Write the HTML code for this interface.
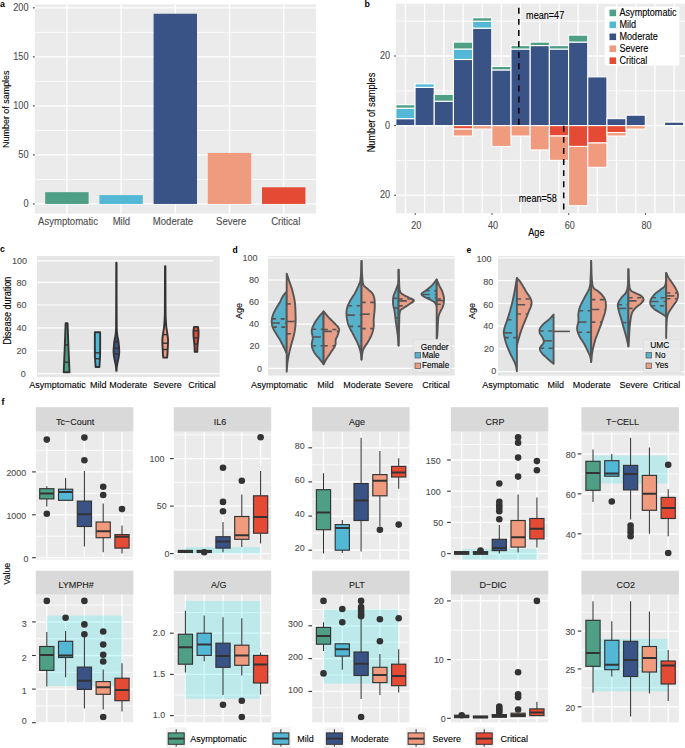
<!DOCTYPE html>
<html><head><meta charset="utf-8"><style>
html,body{margin:0;padding:0;background:#fff;}
svg{display:block;font-family:"Liberation Sans", sans-serif;}
</style></head><body>
<svg width="685" height="748" viewBox="0 0 685 748">
<rect x="0" y="0" width="685" height="748" fill="#fff"/>
<text transform="translate(0,6.5) scale(1,1.1)" font-size="8.8" fill="#000" stroke="#000" stroke-width="0" text-anchor="start" font-weight="bold" >a</text>
<rect x="35" y="4.3" width="281" height="209.3" fill="#EBEBEB" />
<line x1="35" y1="179.44" x2="316" y2="179.44" stroke="#fff" stroke-width="0.8" />
<line x1="35" y1="130.41" x2="316" y2="130.41" stroke="#fff" stroke-width="0.8" />
<line x1="35" y1="81.39" x2="316" y2="81.39" stroke="#fff" stroke-width="0.8" />
<line x1="35" y1="32.36" x2="316" y2="32.36" stroke="#fff" stroke-width="0.8" />
<line x1="35" y1="203.95" x2="316" y2="203.95" stroke="#fff" stroke-width="1.3" />
<line x1="35" y1="154.92" x2="316" y2="154.92" stroke="#fff" stroke-width="1.3" />
<line x1="35" y1="105.9" x2="316" y2="105.9" stroke="#fff" stroke-width="1.3" />
<line x1="35" y1="56.87" x2="316" y2="56.87" stroke="#fff" stroke-width="1.3" />
<line x1="35" y1="7.85" x2="316" y2="7.85" stroke="#fff" stroke-width="1.3" />
<line x1="66.9" y1="4.3" x2="66.9" y2="213.6" stroke="#fff" stroke-width="1.3" />
<line x1="121.1" y1="4.3" x2="121.1" y2="213.6" stroke="#fff" stroke-width="1.3" />
<line x1="175.3" y1="4.3" x2="175.3" y2="213.6" stroke="#fff" stroke-width="1.3" />
<line x1="229.5" y1="4.3" x2="229.5" y2="213.6" stroke="#fff" stroke-width="1.3" />
<line x1="283.7" y1="4.3" x2="283.7" y2="213.6" stroke="#fff" stroke-width="1.3" />
<rect x="45.2" y="192.18" width="43.4" height="11.77" fill="#4E9F86" />
<rect x="99.4" y="195.13" width="43.4" height="8.82" fill="#53B8D6" />
<rect x="153.6" y="13.73" width="43.4" height="190.22" fill="#3A5386" />
<rect x="207.8" y="152.96" width="43.4" height="50.99" fill="#F09A7E" />
<rect x="262" y="187.28" width="43.4" height="16.67" fill="#E54B34" />
<line x1="32.9" y1="203.95" x2="34.8" y2="203.95" stroke="#333333" stroke-width="1" />
<text transform="translate(28.6,207.25) scale(1,1.1)" font-size="9.2" fill="#4D4D4D" stroke="#4D4D4D" stroke-width="0.1" text-anchor="end" font-weight="normal" >0</text>
<line x1="32.9" y1="154.92" x2="34.8" y2="154.92" stroke="#333333" stroke-width="1" />
<text transform="translate(28.6,158.22) scale(1,1.1)" font-size="9.2" fill="#4D4D4D" stroke="#4D4D4D" stroke-width="0.1" text-anchor="end" font-weight="normal" >50</text>
<line x1="32.9" y1="105.9" x2="34.8" y2="105.9" stroke="#333333" stroke-width="1" />
<text transform="translate(28.6,109.2) scale(1,1.1)" font-size="9.2" fill="#4D4D4D" stroke="#4D4D4D" stroke-width="0.1" text-anchor="end" font-weight="normal" >100</text>
<line x1="32.9" y1="56.87" x2="34.8" y2="56.87" stroke="#333333" stroke-width="1" />
<text transform="translate(28.6,60.17) scale(1,1.1)" font-size="9.2" fill="#4D4D4D" stroke="#4D4D4D" stroke-width="0.1" text-anchor="end" font-weight="normal" >150</text>
<line x1="32.9" y1="7.85" x2="34.8" y2="7.85" stroke="#333333" stroke-width="1" />
<text transform="translate(28.6,11.15) scale(1,1.1)" font-size="9.2" fill="#4D4D4D" stroke="#4D4D4D" stroke-width="0.1" text-anchor="end" font-weight="normal" >200</text>
<text transform="translate(68,224.6) scale(1,1.1)" font-size="9.55" fill="#4D4D4D" stroke="#4D4D4D" stroke-width="0.1" text-anchor="middle" font-weight="normal" >Asymptomatic</text>
<text transform="translate(121.4,224.6) scale(1,1.1)" font-size="9.55" fill="#4D4D4D" stroke="#4D4D4D" stroke-width="0.1" text-anchor="middle" font-weight="normal" >Mild</text>
<text transform="translate(173,224.6) scale(1,1.1)" font-size="9.55" fill="#4D4D4D" stroke="#4D4D4D" stroke-width="0.1" text-anchor="middle" font-weight="normal" >Moderate</text>
<text transform="translate(231.2,224.6) scale(1,1.1)" font-size="9.55" fill="#4D4D4D" stroke="#4D4D4D" stroke-width="0.1" text-anchor="middle" font-weight="normal" >Severe</text>
<text transform="translate(285.7,224.6) scale(1,1.1)" font-size="9.55" fill="#4D4D4D" stroke="#4D4D4D" stroke-width="0.1" text-anchor="middle" font-weight="normal" >Critical</text>
<text transform="translate(9.2,109.2) rotate(-90) scale(1,1.1)" font-size="8.95" fill="#000" stroke="#000" stroke-width="0.1" text-anchor="middle">Number of samples</text>
<text transform="translate(364.6,6.8) scale(1,1.1)" font-size="8.8" fill="#000" stroke="#000" stroke-width="0" text-anchor="start" font-weight="bold" >b</text>
<rect x="396" y="3.7" width="289" height="209.5" fill="#EBEBEB" />
<line x1="396" y1="21.2" x2="685" y2="21.2" stroke="#fff" stroke-width="0.8" />
<line x1="396" y1="90.8" x2="685" y2="90.8" stroke="#fff" stroke-width="0.8" />
<line x1="396" y1="160.4" x2="685" y2="160.4" stroke="#fff" stroke-width="0.8" />
<line x1="396" y1="56" x2="685" y2="56" stroke="#fff" stroke-width="1.3" />
<line x1="396" y1="125.6" x2="685" y2="125.6" stroke="#fff" stroke-width="1.3" />
<line x1="396" y1="195.2" x2="685" y2="195.2" stroke="#fff" stroke-width="1.3" />
<line x1="405.45" y1="3.7" x2="405.45" y2="213.2" stroke="#fff" stroke-width="1.3" />
<line x1="424.64" y1="3.7" x2="424.64" y2="213.2" stroke="#fff" stroke-width="1.3" />
<line x1="443.83" y1="3.7" x2="443.83" y2="213.2" stroke="#fff" stroke-width="1.3" />
<line x1="463.02" y1="3.7" x2="463.02" y2="213.2" stroke="#fff" stroke-width="1.3" />
<line x1="482.21" y1="3.7" x2="482.21" y2="213.2" stroke="#fff" stroke-width="1.3" />
<line x1="501.4" y1="3.7" x2="501.4" y2="213.2" stroke="#fff" stroke-width="1.3" />
<line x1="520.59" y1="3.7" x2="520.59" y2="213.2" stroke="#fff" stroke-width="1.3" />
<line x1="539.78" y1="3.7" x2="539.78" y2="213.2" stroke="#fff" stroke-width="1.3" />
<line x1="558.97" y1="3.7" x2="558.97" y2="213.2" stroke="#fff" stroke-width="1.3" />
<line x1="578.16" y1="3.7" x2="578.16" y2="213.2" stroke="#fff" stroke-width="1.3" />
<line x1="597.35" y1="3.7" x2="597.35" y2="213.2" stroke="#fff" stroke-width="1.3" />
<line x1="616.54" y1="3.7" x2="616.54" y2="213.2" stroke="#fff" stroke-width="1.3" />
<line x1="635.73" y1="3.7" x2="635.73" y2="213.2" stroke="#fff" stroke-width="1.3" />
<line x1="654.92" y1="3.7" x2="654.92" y2="213.2" stroke="#fff" stroke-width="1.3" />
<line x1="674.11" y1="3.7" x2="674.11" y2="213.2" stroke="#fff" stroke-width="1.3" />
<rect x="395.85" y="118.64" width="19.19" height="6.96" fill="#3A5386" stroke="#fff" stroke-width="1.1"/>
<rect x="395.85" y="108.2" width="19.19" height="10.44" fill="#53B8D6" stroke="#fff" stroke-width="1.1"/>
<rect x="395.85" y="104.72" width="19.19" height="3.48" fill="#4E9F86" stroke="#fff" stroke-width="1.1"/>
<rect x="415.04" y="87.32" width="19.19" height="38.28" fill="#3A5386" stroke="#fff" stroke-width="1.1"/>
<rect x="415.04" y="83.84" width="19.19" height="3.48" fill="#53B8D6" stroke="#fff" stroke-width="1.1"/>
<rect x="434.23" y="101.24" width="19.19" height="24.36" fill="#3A5386" stroke="#fff" stroke-width="1.1"/>
<rect x="434.23" y="94.28" width="19.19" height="6.96" fill="#4E9F86" stroke="#fff" stroke-width="1.1"/>
<rect x="453.42" y="59.48" width="19.19" height="66.12" fill="#3A5386" stroke="#fff" stroke-width="1.1"/>
<rect x="453.42" y="49.04" width="19.19" height="10.44" fill="#53B8D6" stroke="#fff" stroke-width="1.1"/>
<rect x="453.42" y="42.08" width="19.19" height="6.96" fill="#4E9F86" stroke="#fff" stroke-width="1.1"/>
<rect x="472.61" y="28.16" width="19.19" height="97.44" fill="#3A5386" stroke="#fff" stroke-width="1.1"/>
<rect x="472.61" y="21.2" width="19.19" height="6.96" fill="#53B8D6" stroke="#fff" stroke-width="1.1"/>
<rect x="472.61" y="17.72" width="19.19" height="3.48" fill="#4E9F86" stroke="#fff" stroke-width="1.1"/>
<rect x="491.8" y="69.92" width="19.19" height="55.68" fill="#3A5386" stroke="#fff" stroke-width="1.1"/>
<rect x="491.8" y="66.44" width="19.19" height="3.48" fill="#4E9F86" stroke="#fff" stroke-width="1.1"/>
<rect x="511" y="49.04" width="19.19" height="76.56" fill="#3A5386" stroke="#fff" stroke-width="1.1"/>
<rect x="511" y="45.56" width="19.19" height="3.48" fill="#4E9F86" stroke="#fff" stroke-width="1.1"/>
<rect x="530.18" y="45.56" width="19.19" height="80.04" fill="#3A5386" stroke="#fff" stroke-width="1.1"/>
<rect x="530.18" y="42.08" width="19.19" height="3.48" fill="#4E9F86" stroke="#fff" stroke-width="1.1"/>
<rect x="549.38" y="49.04" width="19.19" height="76.56" fill="#3A5386" stroke="#fff" stroke-width="1.1"/>
<rect x="549.38" y="45.56" width="19.19" height="3.48" fill="#4E9F86" stroke="#fff" stroke-width="1.1"/>
<rect x="568.56" y="42.08" width="19.19" height="83.52" fill="#3A5386" stroke="#fff" stroke-width="1.1"/>
<rect x="568.56" y="35.12" width="19.19" height="6.96" fill="#4E9F86" stroke="#fff" stroke-width="1.1"/>
<rect x="587.75" y="76.88" width="19.19" height="48.72" fill="#3A5386" stroke="#fff" stroke-width="1.1"/>
<rect x="606.94" y="118.64" width="19.19" height="6.96" fill="#3A5386" stroke="#fff" stroke-width="1.1"/>
<rect x="626.13" y="115.16" width="19.19" height="10.44" fill="#3A5386" stroke="#fff" stroke-width="1.1"/>
<rect x="664.51" y="122.12" width="19.19" height="3.48" fill="#3A5386" stroke="#fff" stroke-width="1.1"/>
<rect x="453.42" y="125.6" width="19.19" height="3.48" fill="#E54B34" stroke="#fff" stroke-width="1.1"/>
<rect x="453.42" y="129.08" width="19.19" height="6.96" fill="#F09A7E" stroke="#fff" stroke-width="1.1"/>
<rect x="472.61" y="125.6" width="19.19" height="3.48" fill="#F09A7E" stroke="#fff" stroke-width="1.1"/>
<rect x="491.8" y="125.6" width="19.19" height="20.88" fill="#F09A7E" stroke="#fff" stroke-width="1.1"/>
<rect x="511" y="125.6" width="19.19" height="10.44" fill="#F09A7E" stroke="#fff" stroke-width="1.1"/>
<rect x="530.18" y="125.6" width="19.19" height="24.36" fill="#F09A7E" stroke="#fff" stroke-width="1.1"/>
<rect x="549.38" y="125.6" width="19.19" height="10.44" fill="#E54B34" stroke="#fff" stroke-width="1.1"/>
<rect x="549.38" y="136.04" width="19.19" height="24.36" fill="#F09A7E" stroke="#fff" stroke-width="1.1"/>
<rect x="568.56" y="125.6" width="19.19" height="20.88" fill="#E54B34" stroke="#fff" stroke-width="1.1"/>
<rect x="568.56" y="146.48" width="19.19" height="59.16" fill="#F09A7E" stroke="#fff" stroke-width="1.1"/>
<rect x="587.75" y="125.6" width="19.19" height="17.4" fill="#E54B34" stroke="#fff" stroke-width="1.1"/>
<rect x="587.75" y="143" width="19.19" height="24.36" fill="#F09A7E" stroke="#fff" stroke-width="1.1"/>
<rect x="606.94" y="125.6" width="19.19" height="6.96" fill="#E54B34" stroke="#fff" stroke-width="1.1"/>
<rect x="606.94" y="132.56" width="19.19" height="3.48" fill="#F09A7E" stroke="#fff" stroke-width="1.1"/>
<rect x="626.13" y="125.6" width="19.19" height="3.48" fill="#F09A7E" stroke="#fff" stroke-width="1.1"/>
<line x1="518.8" y1="7.8" x2="518.8" y2="125.3" stroke="#000" stroke-width="1.5" stroke-dasharray="5.9,5.2"/>
<line x1="563.7" y1="125.8" x2="563.7" y2="210.6" stroke="#000" stroke-width="1.5" stroke-dasharray="5.9,5.2"/>
<text transform="translate(526.1,18.9) scale(1,1.1)" font-size="9.1" fill="#000" stroke="#000" stroke-width="0.1" text-anchor="start" font-weight="normal" >mean=47</text>
<text transform="translate(518.8,201.8) scale(1,1.1)" font-size="9.1" fill="#000" stroke="#000" stroke-width="0.1" text-anchor="start" font-weight="normal" >mean=58</text>
<rect x="604.7" y="6.6" width="74.6" height="58.9" fill="#fff" />
<rect x="609.5" y="9.6" width="6.6" height="6.6" fill="#4E9F86" />
<text transform="translate(619.5,16.2) scale(1,1.1)" font-size="9.1" fill="#000" stroke="#000" stroke-width="0.1" text-anchor="start" font-weight="normal" >Asymptomatic</text>
<rect x="609.5" y="21.55" width="6.6" height="6.6" fill="#53B8D6" />
<text transform="translate(619.5,28.15) scale(1,1.1)" font-size="9.1" fill="#000" stroke="#000" stroke-width="0.1" text-anchor="start" font-weight="normal" >Mild</text>
<rect x="609.5" y="33.5" width="6.6" height="6.6" fill="#3A5386" />
<text transform="translate(619.5,40.1) scale(1,1.1)" font-size="9.1" fill="#000" stroke="#000" stroke-width="0.1" text-anchor="start" font-weight="normal" >Moderate</text>
<rect x="609.5" y="45.45" width="6.6" height="6.6" fill="#F09A7E" />
<text transform="translate(619.5,52.05) scale(1,1.1)" font-size="9.1" fill="#000" stroke="#000" stroke-width="0.1" text-anchor="start" font-weight="normal" >Severe</text>
<rect x="609.5" y="57.4" width="6.6" height="6.6" fill="#E54B34" />
<text transform="translate(619.5,64) scale(1,1.1)" font-size="9.1" fill="#000" stroke="#000" stroke-width="0.1" text-anchor="start" font-weight="normal" >Critical</text>
<line x1="394.2" y1="56" x2="396" y2="56" stroke="#333333" stroke-width="1" />
<text transform="translate(390.1,59.2) scale(1,1.1)" font-size="9.1" fill="#4D4D4D" stroke="#4D4D4D" stroke-width="0.1" text-anchor="end" font-weight="normal" >20</text>
<line x1="394.2" y1="125.6" x2="396" y2="125.6" stroke="#333333" stroke-width="1" />
<text transform="translate(390.1,128.8) scale(1,1.1)" font-size="9.1" fill="#4D4D4D" stroke="#4D4D4D" stroke-width="0.1" text-anchor="end" font-weight="normal" >0</text>
<line x1="394.2" y1="195.2" x2="396" y2="195.2" stroke="#333333" stroke-width="1" />
<text transform="translate(390.1,198.4) scale(1,1.1)" font-size="9.1" fill="#4D4D4D" stroke="#4D4D4D" stroke-width="0.1" text-anchor="end" font-weight="normal" >20</text>
<line x1="415.2" y1="213.2" x2="415.2" y2="214.8" stroke="#333333" stroke-width="1" />
<text transform="translate(416.2,228.7) scale(1,1.1)" font-size="9.1" fill="#4D4D4D" stroke="#4D4D4D" stroke-width="0.1" text-anchor="middle" font-weight="normal" >20</text>
<line x1="491.96" y1="213.2" x2="491.96" y2="214.8" stroke="#333333" stroke-width="1" />
<text transform="translate(492.96,228.7) scale(1,1.1)" font-size="9.1" fill="#4D4D4D" stroke="#4D4D4D" stroke-width="0.1" text-anchor="middle" font-weight="normal" >40</text>
<line x1="568.72" y1="213.2" x2="568.72" y2="214.8" stroke="#333333" stroke-width="1" />
<text transform="translate(569.72,228.7) scale(1,1.1)" font-size="9.1" fill="#4D4D4D" stroke="#4D4D4D" stroke-width="0.1" text-anchor="middle" font-weight="normal" >60</text>
<line x1="645.48" y1="213.2" x2="645.48" y2="214.8" stroke="#333333" stroke-width="1" />
<text transform="translate(646.48,228.7) scale(1,1.1)" font-size="9.1" fill="#4D4D4D" stroke="#4D4D4D" stroke-width="0.1" text-anchor="middle" font-weight="normal" >80</text>
<text transform="translate(536.4,236.3) scale(1,1.1)" font-size="9.1" fill="#000" stroke="#000" stroke-width="0.1" text-anchor="middle" font-weight="normal" >Age</text>
<text transform="translate(375.2,112.5) rotate(-90) scale(1,1.1)" font-size="9.2" fill="#000" stroke="#000" stroke-width="0.1" text-anchor="middle">Number of samples</text>
<text transform="translate(0,252.3) scale(1,1.1)" font-size="8.8" fill="#000" stroke="#000" stroke-width="0" text-anchor="start" font-weight="bold" >c</text>
<rect x="37" y="256.1" width="182.6" height="120.8" fill="#E5E5E5" />
<line x1="37" y1="373.6" x2="219.6" y2="373.6" stroke="#fff" stroke-width="1.2" />
<line x1="37" y1="350.6" x2="219.6" y2="350.6" stroke="#fff" stroke-width="1.2" />
<line x1="37" y1="327.8" x2="219.6" y2="327.8" stroke="#fff" stroke-width="1.2" />
<line x1="37" y1="305" x2="219.6" y2="305" stroke="#fff" stroke-width="1.2" />
<line x1="37" y1="282.3" x2="219.6" y2="282.3" stroke="#fff" stroke-width="1.2" />
<line x1="37" y1="260.8" x2="213.1" y2="260.8" stroke="#fff" stroke-width="1.2" />
<text transform="translate(25.8,376.8) scale(1,1.1)" font-size="9" fill="#4D4D4D" stroke="#4D4D4D" stroke-width="0.1" text-anchor="end" font-weight="normal" >0</text>
<text transform="translate(26.5,353.8) scale(1,1.1)" font-size="9" fill="#4D4D4D" stroke="#4D4D4D" stroke-width="0.1" text-anchor="end" font-weight="normal" >20</text>
<text transform="translate(26.5,331) scale(1,1.1)" font-size="9" fill="#4D4D4D" stroke="#4D4D4D" stroke-width="0.1" text-anchor="end" font-weight="normal" >40</text>
<text transform="translate(26.5,308.2) scale(1,1.1)" font-size="9" fill="#4D4D4D" stroke="#4D4D4D" stroke-width="0.1" text-anchor="end" font-weight="normal" >60</text>
<text transform="translate(26.5,285.5) scale(1,1.1)" font-size="9" fill="#4D4D4D" stroke="#4D4D4D" stroke-width="0.1" text-anchor="end" font-weight="normal" >80</text>
<text transform="translate(27,264) scale(1,1.1)" font-size="9" fill="#4D4D4D" stroke="#4D4D4D" stroke-width="0.1" text-anchor="end" font-weight="normal" >100</text>
<text transform="translate(57.5,387.6) scale(1,1.1)" font-size="9" fill="#000" stroke="#000" stroke-width="0.1" text-anchor="middle" font-weight="normal" >Asymptomatic</text>
<text transform="translate(98.2,387.6) scale(1,1.1)" font-size="9" fill="#000" stroke="#000" stroke-width="0.1" text-anchor="middle" font-weight="normal" >Mild</text>
<text transform="translate(128.2,387.6) scale(1,1.1)" font-size="9" fill="#000" stroke="#000" stroke-width="0.1" text-anchor="middle" font-weight="normal" >Moderate</text>
<text transform="translate(167.5,387.6) scale(1,1.1)" font-size="9" fill="#000" stroke="#000" stroke-width="0.1" text-anchor="middle" font-weight="normal" >Severe</text>
<text transform="translate(202.1,387.6) scale(1,1.1)" font-size="9" fill="#000" stroke="#000" stroke-width="0.1" text-anchor="middle" font-weight="normal" >Critical</text>
<text transform="translate(10.6,310.7) rotate(-90) scale(1,1.1)" font-size="9.1" fill="#000" stroke="#000" stroke-width="0.1" text-anchor="middle">Disease duration</text>
<path d="M67.55,323.1 C67.62,325.08 67.83,330.52 68,335 C68.17,339.48 68.35,345 68.55,350 C68.75,355 69.04,361.28 69.2,365 C69.36,368.72 69.45,371.08 69.5,372.3 L63.7,372.3 C63.75,371.08 63.84,368.72 64,365 C64.16,361.28 64.45,355 64.65,350 C64.85,345 65.03,339.48 65.2,335 C65.37,330.52 65.57,325.08 65.65,323.1 Z" fill="#4E9F86" stroke="#333333" stroke-width="1.9" stroke-linejoin="round"/>
<line x1="64.84" y1="344.9" x2="68.36" y2="344.9" stroke="#333333" stroke-width="1.4" />
<line x1="64.12" y1="362.2" x2="69.08" y2="362.2" stroke="#333333" stroke-width="1.4" />
<path d="M100.15,332.3 C100.15,335.25 100.17,345.88 100.15,350 C100.13,354.12 100.12,355 100.05,357 C99.97,359 99.81,360.33 99.7,362 C99.59,363.67 99.45,366.17 99.4,367 L95.6,367 C95.55,366.17 95.41,363.67 95.3,362 C95.19,360.33 95.03,359 94.95,357 C94.88,355 94.87,354.12 94.85,350 C94.83,345.88 94.85,335.25 94.85,332.3 Z" fill="#53B8D6" stroke="#333333" stroke-width="1.9" stroke-linejoin="round"/>
<line x1="94.89" y1="352.8" x2="100.11" y2="352.8" stroke="#333333" stroke-width="1.4" />
<line x1="95.07" y1="358.7" x2="99.93" y2="358.7" stroke="#333333" stroke-width="1.4" />
<path d="M116.55,262.8 C116.56,269 116.58,289.47 116.6,300 C116.62,310.53 116.65,320.78 116.7,326 C116.75,331.22 116.8,329.73 116.9,331.3 C117,332.87 117.07,333.87 117.3,335.4 C117.53,336.93 118.03,338.78 118.3,340.5 C118.57,342.22 118.74,343.98 118.9,345.7 C119.06,347.42 119.25,349.1 119.25,350.8 C119.25,352.5 119.12,354.2 118.9,355.9 C118.68,357.6 118.23,359.3 117.9,361 C117.57,362.7 117.13,364.47 116.9,366.1 C116.67,367.73 116.57,370.02 116.5,370.8 L116.3,370.8 C116.23,370.02 116.13,367.73 115.9,366.1 C115.67,364.47 115.23,362.7 114.9,361 C114.57,359.3 114.12,357.6 113.9,355.9 C113.68,354.2 113.55,352.5 113.55,350.8 C113.55,349.1 113.74,347.42 113.9,345.7 C114.06,343.98 114.23,342.22 114.5,340.5 C114.77,338.78 115.27,336.93 115.5,335.4 C115.73,333.87 115.8,332.87 115.9,331.3 C116,329.73 116.05,331.22 116.1,326 C116.15,320.78 116.18,310.53 116.2,300 C116.22,289.47 116.24,269 116.25,262.8 Z" fill="#3A5386" stroke="#333333" stroke-width="1.9" stroke-linejoin="round"/>
<line x1="114.34" y1="341.9" x2="118.46" y2="341.9" stroke="#333333" stroke-width="1.4" />
<line x1="113.73" y1="348.2" x2="119.07" y2="348.2" stroke="#333333" stroke-width="1.4" />
<line x1="113.76" y1="353.8" x2="119.04" y2="353.8" stroke="#333333" stroke-width="1.4" />
<path d="M165.4,266.2 C165.42,271.83 165.47,291.87 165.5,300 C165.53,308.13 165.53,311.5 165.6,315 C165.67,318.5 165.77,318.92 165.9,321 C166.03,323.08 166.15,325.33 166.4,327.5 C166.65,329.67 167.12,331.92 167.4,334 C167.67,336.08 167.99,337.5 168.05,340 C168.11,342.5 167.86,346.5 167.75,349 C167.64,351.5 167.51,353.57 167.4,355 C167.29,356.43 167.15,357.17 167.1,357.6 L163.3,357.6 C163.25,357.17 163.11,356.43 163,355 C162.89,353.57 162.76,351.5 162.65,349 C162.54,346.5 162.29,342.5 162.35,340 C162.41,337.5 162.72,336.08 163,334 C163.28,331.92 163.75,329.67 164,327.5 C164.25,325.33 164.37,323.08 164.5,321 C164.63,318.92 164.73,318.5 164.8,315 C164.87,311.5 164.87,308.13 164.9,300 C164.93,291.87 164.98,271.83 165,266.2 Z" fill="#F09A7E" stroke="#333333" stroke-width="1.9" stroke-linejoin="round"/>
<line x1="162.93" y1="334.6" x2="167.47" y2="334.6" stroke="#333333" stroke-width="1.4" />
<line x1="162.46" y1="343.2" x2="167.94" y2="343.2" stroke="#333333" stroke-width="1.4" />
<line x1="162.68" y1="349.5" x2="167.72" y2="349.5" stroke="#333333" stroke-width="1.4" />
<path d="M198,326.9 C198.09,327.63 198.47,329.78 198.55,331.3 C198.63,332.82 198.57,334.55 198.5,336 C198.43,337.45 198.28,338.17 198.1,340 C197.92,341.83 197.58,345.02 197.45,347 C197.32,348.98 197.33,351.08 197.3,351.9 L194.7,351.9 C194.67,351.08 194.68,348.98 194.55,347 C194.42,345.02 194.08,341.83 193.9,340 C193.72,338.17 193.57,337.45 193.5,336 C193.43,334.55 193.37,332.82 193.45,331.3 C193.53,329.78 193.91,327.63 194,326.9 Z" fill="#E54B34" stroke="#333333" stroke-width="1.9" stroke-linejoin="round"/>
<line x1="193.51" y1="330.8" x2="198.49" y2="330.8" stroke="#333333" stroke-width="1.4" />
<line x1="193.69" y1="337.9" x2="198.31" y2="337.9" stroke="#333333" stroke-width="1.4" />
<line x1="194.28" y1="344.1" x2="197.72" y2="344.1" stroke="#333333" stroke-width="1.4" />
<rect x="268" y="256.1" width="186.6" height="119.5" fill="#E5E5E5" />
<line x1="268" y1="368.3" x2="454.6" y2="368.3" stroke="#fff" stroke-width="1.2" />
<line x1="268" y1="346.22" x2="454.6" y2="346.22" stroke="#fff" stroke-width="1.2" />
<line x1="268" y1="324.14" x2="454.6" y2="324.14" stroke="#fff" stroke-width="1.2" />
<line x1="268" y1="302.06" x2="454.6" y2="302.06" stroke="#fff" stroke-width="1.2" />
<line x1="268" y1="279.98" x2="454.6" y2="279.98" stroke="#fff" stroke-width="1.2" />
<line x1="268" y1="257.9" x2="454.6" y2="257.9" stroke="#fff" stroke-width="1.2" />
<text transform="translate(232.6,252.9) scale(1,1.1)" font-size="8.5" fill="#000" stroke="#000" stroke-width="0" text-anchor="start" font-weight="bold" >d</text>
<text transform="translate(257.6,261.1) scale(1,1.1)" font-size="9" fill="#4D4D4D" stroke="#4D4D4D" stroke-width="0.1" text-anchor="end" font-weight="normal" >100</text>
<text transform="translate(259,283.18) scale(1,1.1)" font-size="9" fill="#4D4D4D" stroke="#4D4D4D" stroke-width="0.1" text-anchor="end" font-weight="normal" >80</text>
<text transform="translate(259,305.26) scale(1,1.1)" font-size="9" fill="#4D4D4D" stroke="#4D4D4D" stroke-width="0.1" text-anchor="end" font-weight="normal" >60</text>
<text transform="translate(259,327.34) scale(1,1.1)" font-size="9" fill="#4D4D4D" stroke="#4D4D4D" stroke-width="0.1" text-anchor="end" font-weight="normal" >40</text>
<text transform="translate(259.5,349.42) scale(1,1.1)" font-size="9" fill="#4D4D4D" stroke="#4D4D4D" stroke-width="0.1" text-anchor="end" font-weight="normal" >20</text>
<text transform="translate(262.1,371.5) scale(1,1.1)" font-size="9" fill="#4D4D4D" stroke="#4D4D4D" stroke-width="0.1" text-anchor="end" font-weight="normal" >0</text>
<text transform="translate(279.3,388) scale(1,1.1)" font-size="9" fill="#000" stroke="#000" stroke-width="0.1" text-anchor="middle" font-weight="normal" >Asymptomatic</text>
<text transform="translate(325.5,388) scale(1,1.1)" font-size="9" fill="#000" stroke="#000" stroke-width="0.1" text-anchor="middle" font-weight="normal" >Mild</text>
<text transform="translate(362.3,388) scale(1,1.1)" font-size="9" fill="#000" stroke="#000" stroke-width="0.1" text-anchor="middle" font-weight="normal" >Moderate</text>
<text transform="translate(398.8,388) scale(1,1.1)" font-size="9" fill="#000" stroke="#000" stroke-width="0.1" text-anchor="middle" font-weight="normal" >Severe</text>
<text transform="translate(436,388) scale(1,1.1)" font-size="9" fill="#000" stroke="#000" stroke-width="0.1" text-anchor="middle" font-weight="normal" >Critical</text>
<text transform="translate(241.8,311.1) rotate(-90) scale(1,1.1)" font-size="9" fill="#000" stroke="#000" stroke-width="0.1" text-anchor="middle">Age</text>
<path d="M286.71,291.55 L286.42,291.89 L286.02,292.33 L285.54,292.86 L285.01,293.44 L284.47,294.08 L283.93,294.73 L283.42,295.4 L282.97,296.04 L282.58,296.68 L282.23,297.34 L281.9,298.02 L281.58,298.72 L281.25,299.43 L280.92,300.16 L280.56,300.9 L280.16,301.66 L279.72,302.43 L279.24,303.23 L278.74,304.05 L278.22,304.88 L277.7,305.72 L277.19,306.56 L276.69,307.39 L276.23,308.21 L275.78,309.01 L275.34,309.81 L274.9,310.61 L274.48,311.4 L274.07,312.19 L273.69,312.98 L273.35,313.78 L273.05,314.57 L272.78,315.37 L272.54,316.16 L272.32,316.96 L272.14,317.75 L271.98,318.55 L271.86,319.34 L271.78,320.14 L271.74,320.93 L271.73,321.73 L271.75,322.52 L271.81,323.31 L271.9,324.1 L272.03,324.9 L272.2,325.69 L272.42,326.49 L272.67,327.3 L272.99,328.11 L273.37,328.93 L273.8,329.75 L274.26,330.57 L274.75,331.4 L275.25,332.22 L275.75,333.04 L276.23,333.85 L276.7,334.65 L277.19,335.43 L277.68,336.21 L278.18,336.98 L278.68,337.76 L279.18,338.56 L279.68,339.37 L280.16,340.21 L280.64,341.09 L281.13,342.01 L281.62,342.95 L282.1,343.9 L282.58,344.84 L283.04,345.77 L283.48,346.66 L283.9,347.51 L284.32,348.35 L284.74,349.2 L285.15,350.05 L285.54,350.87 L285.9,351.63 L286.23,352.31 L286.5,352.88 L286.71,353.31 Z" fill="#58B1CB" stroke="#555555" stroke-width="1.9" stroke-linejoin="round"/>
<line x1="271.93" y1="318.9" x2="286.71" y2="318.9" stroke="#555555" stroke-width="1.6" stroke-dasharray="4.2,4.5"/>
<line x1="271.79" y1="323" x2="286.71" y2="323" stroke="#555555" stroke-width="1.6" stroke-dasharray="8.2,5"/>
<line x1="272.61" y1="327.1" x2="286.71" y2="327.1" stroke="#555555" stroke-width="1.6" stroke-dasharray="4.2,4.5"/>
<path d="M286.71,273.58 L286.89,274.13 L287.13,274.84 L287.41,275.69 L287.73,276.64 L288.07,277.66 L288.43,278.73 L288.79,279.81 L289.14,280.88 L289.51,281.96 L289.9,283.07 L290.31,284.22 L290.73,285.41 L291.15,286.63 L291.57,287.87 L291.96,289.14 L292.33,290.43 L292.68,291.75 L293.03,293.12 L293.37,294.51 L293.69,295.94 L294,297.37 L294.29,298.81 L294.54,300.24 L294.76,301.66 L294.94,303.06 L295.08,304.46 L295.2,305.87 L295.28,307.27 L295.36,308.67 L295.41,310.08 L295.46,311.48 L295.51,312.89 L295.55,314.3 L295.59,315.73 L295.62,317.16 L295.64,318.59 L295.64,320.01 L295.62,321.41 L295.58,322.78 L295.51,324.12 L295.42,325.4 L295.3,326.65 L295.17,327.87 L295.02,329.08 L294.84,330.26 L294.65,331.45 L294.43,332.64 L294.2,333.85 L293.93,335.07 L293.63,336.29 L293.3,337.51 L292.96,338.73 L292.6,339.94 L292.25,341.16 L291.9,342.37 L291.58,343.58 L291.26,344.78 L290.94,345.98 L290.62,347.17 L290.3,348.36 L289.99,349.55 L289.69,350.74 L289.41,351.93 L289.14,353.13 L288.89,354.32 L288.65,355.53 L288.42,356.73 L288.2,357.93 L287.99,359.13 L287.8,360.32 L287.62,361.5 L287.46,362.67 L287.32,363.88 L287.19,365.17 L287.08,366.48 L286.98,367.76 L286.9,368.97 L286.82,370.05 L286.76,370.97 L286.71,371.65 Z" fill="#E89D86" stroke="#555555" stroke-width="1.9" stroke-linejoin="round"/>
<line x1="286.71" y1="303.9" x2="295.02" y2="303.9" stroke="#555555" stroke-width="1.6" stroke-dasharray="4.2,4.5"/>
<line x1="286.71" y1="321.5" x2="295.61" y2="321.5" stroke="#555555" stroke-width="1.6" stroke-dasharray="8.2,5"/>
<line x1="286.71" y1="333.8" x2="294.21" y2="333.8" stroke="#555555" stroke-width="1.6" stroke-dasharray="4.2,4.5"/>
<path d="M323.58,311.39 L323.25,311.77 L322.82,312.26 L322.3,312.85 L321.72,313.51 L321.11,314.22 L320.48,314.96 L319.86,315.7 L319.28,316.44 L318.7,317.18 L318.09,317.95 L317.47,318.75 L316.84,319.57 L316.23,320.4 L315.64,321.25 L315.1,322.12 L314.6,322.99 L314.13,323.88 L313.68,324.8 L313.24,325.73 L312.84,326.68 L312.49,327.63 L312.18,328.59 L311.95,329.54 L311.79,330.48 L311.74,331.41 L311.8,332.35 L311.95,333.29 L312.14,334.22 L312.35,335.16 L312.54,336.09 L312.67,337.03 L312.73,337.97 L312.67,338.9 L312.54,339.84 L312.35,340.77 L312.14,341.71 L311.95,342.64 L311.8,343.58 L311.74,344.52 L311.79,345.45 L311.95,346.4 L312.18,347.37 L312.49,348.34 L312.84,349.31 L313.24,350.27 L313.68,351.2 L314.13,352.09 L314.6,352.94 L315.1,353.73 L315.64,354.47 L316.23,355.18 L316.84,355.86 L317.47,356.53 L318.09,357.19 L318.7,357.86 L319.28,358.55 L319.86,359.29 L320.48,360.09 L321.11,360.91 L321.72,361.71 L322.3,362.47 L322.82,363.16 L323.25,363.73 L323.58,364.17 Z" fill="#58B1CB" stroke="#555555" stroke-width="1.9" stroke-linejoin="round"/>
<line x1="312.03" y1="329.2" x2="323.58" y2="329.2" stroke="#555555" stroke-width="1.6" stroke-dasharray="4.2,4.5"/>
<line x1="312.67" y1="337" x2="323.58" y2="337" stroke="#555555" stroke-width="1.6" stroke-dasharray="8.2,5"/>
<line x1="311.85" y1="345.8" x2="323.58" y2="345.8" stroke="#555555" stroke-width="1.6" stroke-dasharray="4.2,4.5"/>
<path d="M323.58,311.39 L323.97,311.85 L324.48,312.47 L325.08,313.21 L325.76,314.03 L326.48,314.9 L327.21,315.77 L327.94,316.61 L328.63,317.38 L329.32,318.1 L330.02,318.81 L330.74,319.51 L331.47,320.21 L332.19,320.9 L332.9,321.6 L333.59,322.29 L334.25,322.99 L334.92,323.69 L335.62,324.4 L336.32,325.1 L337,325.8 L337.63,326.5 L338.18,327.2 L338.62,327.91 L338.93,328.61 L339.09,329.31 L339.12,330.01 L339.05,330.71 L338.89,331.41 L338.69,332.12 L338.45,332.82 L338.21,333.52 L337.99,334.22 L337.76,334.92 L337.48,335.63 L337.17,336.33 L336.85,337.03 L336.52,337.73 L336.22,338.43 L335.96,339.14 L335.75,339.84 L335.62,340.53 L335.58,341.2 L335.59,341.86 L335.62,342.53 L335.62,343.21 L335.58,343.92 L335.44,344.66 L335.19,345.45 L334.79,346.31 L334.28,347.24 L333.69,348.2 L333.04,349.2 L332.37,350.19 L331.71,351.15 L331.07,352.08 L330.51,352.94 L329.99,353.73 L329.49,354.47 L329.01,355.18 L328.54,355.86 L328.08,356.53 L327.64,357.19 L327.2,357.86 L326.76,358.55 L326.32,359.29 L325.85,360.09 L325.39,360.91 L324.94,361.71 L324.52,362.47 L324.14,363.16 L323.82,363.73 L323.58,364.17 Z" fill="#E89D86" stroke="#555555" stroke-width="1.9" stroke-linejoin="round"/>
<line x1="323.58" y1="329.5" x2="339.1" y2="329.5" stroke="#555555" stroke-width="1.6" stroke-dasharray="4.2,4.5"/>
<line x1="323.58" y1="331.4" x2="338.9" y2="331.4" stroke="#555555" stroke-width="1.6" stroke-dasharray="8.2,5"/>
<line x1="323.58" y1="345.8" x2="335.03" y2="345.8" stroke="#555555" stroke-width="1.6" stroke-dasharray="4.2,4.5"/>
<path d="M361.52,260.86 L361.49,261.93 L361.44,263.4 L361.39,265.14 L361.32,267.07 L361.25,269.06 L361.17,271 L361.07,272.8 L360.96,274.33 L360.86,275.61 L360.77,276.75 L360.67,277.78 L360.56,278.74 L360.42,279.68 L360.23,280.63 L359.98,281.65 L359.65,282.75 L359.23,283.97 L358.72,285.26 L358.14,286.6 L357.52,287.96 L356.88,289.31 L356.22,290.63 L355.58,291.88 L354.97,293.05 L354.38,294.12 L353.77,295.12 L353.15,296.06 L352.54,296.97 L351.94,297.85 L351.36,298.73 L350.81,299.62 L350.29,300.53 L349.81,301.47 L349.33,302.41 L348.88,303.34 L348.45,304.28 L348.05,305.21 L347.69,306.15 L347.37,307.08 L347.11,308.02 L346.9,308.94 L346.73,309.85 L346.6,310.75 L346.52,311.65 L346.47,312.56 L346.46,313.5 L346.49,314.48 L346.55,315.51 L346.65,316.59 L346.78,317.71 L346.95,318.88 L347.16,320.07 L347.41,321.27 L347.7,322.48 L348.04,323.68 L348.42,324.86 L348.87,326.03 L349.39,327.2 L349.97,328.37 L350.59,329.54 L351.22,330.71 L351.87,331.88 L352.5,333.05 L353.1,334.22 L353.7,335.4 L354.31,336.58 L354.94,337.77 L355.56,338.96 L356.16,340.14 L356.74,341.31 L357.28,342.46 L357.78,343.58 L358.23,344.68 L358.66,345.77 L359.05,346.85 L359.42,347.91 L359.75,348.95 L360.06,349.98 L360.34,351 L360.59,352 L360.8,353.03 L360.98,354.12 L361.12,355.21 L361.23,356.27 L361.32,357.27 L361.4,358.17 L361.46,358.92 L361.52,359.49 Z" fill="#58B1CB" stroke="#555555" stroke-width="1.9" stroke-linejoin="round"/>
<line x1="347.82" y1="305.8" x2="361.52" y2="305.8" stroke="#555555" stroke-width="1.6" stroke-dasharray="4.2,4.5"/>
<line x1="346.53" y1="315.1" x2="361.52" y2="315.1" stroke="#555555" stroke-width="1.6" stroke-dasharray="8.2,5"/>
<line x1="349.04" y1="326.4" x2="361.52" y2="326.4" stroke="#555555" stroke-width="1.6" stroke-dasharray="4.2,4.5"/>
<path d="M361.52,260.86 L361.56,261.92 L361.61,263.35 L361.66,265.06 L361.72,266.95 L361.79,268.92 L361.88,270.87 L361.98,272.71 L362.08,274.33 L362.19,275.81 L362.28,277.26 L362.37,278.67 L362.48,280.03 L362.62,281.32 L362.81,282.52 L363.07,283.63 L363.4,284.62 L363.82,285.48 L364.33,286.19 L364.9,286.79 L365.52,287.32 L366.17,287.8 L366.83,288.27 L367.47,288.76 L368.07,289.3 L368.68,289.88 L369.31,290.43 L369.95,290.98 L370.59,291.53 L371.2,292.09 L371.78,292.68 L372.3,293.31 L372.75,293.98 L373.13,294.69 L373.46,295.42 L373.74,296.18 L373.98,296.97 L374.18,297.79 L374.35,298.65 L374.5,299.57 L374.62,300.53 L374.72,301.57 L374.78,302.68 L374.8,303.84 L374.8,305.04 L374.78,306.26 L374.73,307.49 L374.68,308.7 L374.62,309.89 L374.55,311.07 L374.43,312.27 L374.3,313.48 L374.16,314.69 L374.01,315.88 L373.88,317.04 L373.77,318.17 L373.69,319.25 L373.66,320.27 L373.67,321.25 L373.7,322.19 L373.75,323.11 L373.78,324.01 L373.8,324.91 L373.77,325.81 L373.69,326.74 L373.56,327.67 L373.4,328.61 L373.21,329.54 L372.99,330.48 L372.74,331.41 L372.46,332.35 L372.15,333.29 L371.82,334.22 L371.45,335.16 L371.04,336.09 L370.59,337.03 L370.12,337.97 L369.63,338.9 L369.12,339.84 L368.6,340.77 L368.07,341.71 L367.51,342.66 L366.89,343.62 L366.24,344.6 L365.58,345.57 L364.94,346.52 L364.35,347.46 L363.83,348.35 L363.4,349.2 L363.07,349.99 L362.81,350.75 L362.62,351.48 L362.48,352.18 L362.37,352.86 L362.28,353.52 L362.19,354.17 L362.08,354.81 L361.98,355.47 L361.88,356.16 L361.79,356.84 L361.72,357.5 L361.66,358.12 L361.61,358.67 L361.56,359.13 L361.52,359.49 Z" fill="#E89D86" stroke="#555555" stroke-width="1.9" stroke-linejoin="round"/>
<line x1="361.52" y1="302.4" x2="374.76" y2="302.4" stroke="#555555" stroke-width="1.6" stroke-dasharray="4.2,4.5"/>
<line x1="361.52" y1="314.2" x2="374.22" y2="314.2" stroke="#555555" stroke-width="1.6" stroke-dasharray="8.2,5"/>
<line x1="361.52" y1="328.6" x2="373.4" y2="328.6" stroke="#555555" stroke-width="1.6" stroke-dasharray="4.2,4.5"/>
<path d="M398.58,269.65 L398.58,270.62 L398.6,271.95 L398.62,273.53 L398.63,275.27 L398.62,277.06 L398.59,278.82 L398.52,280.44 L398.39,281.82 L398.22,282.98 L397.99,284.02 L397.73,284.97 L397.43,285.85 L397.12,286.7 L396.8,287.54 L396.47,288.4 L396.15,289.3 L395.81,290.24 L395.42,291.18 L395.02,292.11 L394.62,293.05 L394.23,293.98 L393.87,294.92 L393.57,295.85 L393.34,296.79 L393.18,297.73 L393.07,298.66 L393,299.6 L392.98,300.53 L392.99,301.47 L393.02,302.41 L393.08,303.34 L393.15,304.28 L393.26,305.2 L393.42,306.1 L393.61,307 L393.82,307.9 L394.04,308.82 L394.26,309.76 L394.47,310.74 L394.65,311.76 L394.81,312.84 L394.95,313.97 L395.09,315.14 L395.22,316.33 L395.36,317.53 L395.49,318.74 L395.63,319.94 L395.77,321.12 L395.93,322.3 L396.1,323.5 L396.27,324.71 L396.44,325.92 L396.61,327.11 L396.78,328.27 L396.94,329.4 L397.08,330.48 L397.22,331.5 L397.35,332.48 L397.48,333.42 L397.6,334.34 L397.71,335.24 L397.82,336.14 L397.92,337.04 L398.02,337.97 L398.11,338.95 L398.2,340.01 L398.28,341.1 L398.36,342.18 L398.43,343.19 L398.49,344.11 L398.54,344.87 L398.58,345.45 Z" fill="#58B1CB" stroke="#555555" stroke-width="1.9" stroke-linejoin="round"/>
<line x1="393.11" y1="298.3" x2="398.58" y2="298.3" stroke="#555555" stroke-width="1.6" stroke-dasharray="4.2,4.5"/>
<line x1="393.84" y1="308" x2="398.58" y2="308" stroke="#555555" stroke-width="1.6" stroke-dasharray="8.2,5"/>
<line x1="395.39" y1="317.8" x2="398.58" y2="317.8" stroke="#555555" stroke-width="1.6" stroke-dasharray="4.2,4.5"/>
<path d="M398.58,269.65 L398.62,270.61 L398.68,271.9 L398.74,273.45 L398.82,275.15 L398.89,276.93 L398.98,278.69 L399.06,280.35 L399.14,281.82 L399.21,283.16 L399.25,284.49 L399.28,285.78 L399.32,287.02 L399.38,288.2 L399.49,289.3 L399.65,290.29 L399.89,291.18 L400.2,291.92 L400.57,292.53 L400.99,293.03 L401.46,293.46 L401.96,293.83 L402.5,294.18 L403.06,294.53 L403.63,294.92 L404.25,295.31 L404.93,295.69 L405.64,296.04 L406.38,296.38 L407.13,296.71 L407.87,297.05 L408.58,297.38 L409.25,297.73 L409.94,298.07 L410.7,298.41 L411.48,298.74 L412.23,299.07 L412.9,299.41 L413.44,299.77 L413.8,300.14 L413.93,300.53 L413.8,300.96 L413.44,301.4 L412.9,301.87 L412.23,302.35 L411.48,302.83 L410.7,303.32 L409.94,303.8 L409.25,304.28 L408.58,304.74 L407.87,305.21 L407.13,305.68 L406.38,306.15 L405.64,306.62 L404.93,307.08 L404.25,307.55 L403.63,308.02 L403.06,308.42 L402.5,308.74 L401.96,309.01 L401.46,309.31 L400.99,309.67 L400.57,310.17 L400.2,310.85 L399.89,311.76 L399.65,312.9 L399.49,314.2 L399.38,315.66 L399.32,317.26 L399.28,318.99 L399.25,320.84 L399.21,322.8 L399.14,324.86 L399.06,327.22 L398.98,329.97 L398.89,332.94 L398.82,335.98 L398.74,338.91 L398.68,341.58 L398.62,343.81 L398.58,345.45 Z" fill="#E89D86" stroke="#555555" stroke-width="1.9" stroke-linejoin="round"/>
<line x1="398.58" y1="299" x2="412.07" y2="299" stroke="#555555" stroke-width="1.6" stroke-dasharray="4.2,4.5"/>
<line x1="398.58" y1="300.9" x2="413.82" y2="300.9" stroke="#555555" stroke-width="1.6" stroke-dasharray="8.2,5"/>
<line x1="398.58" y1="305.8" x2="406.94" y2="305.8" stroke="#555555" stroke-width="1.6" stroke-dasharray="4.2,4.5"/>
<path d="M436.68,279.57 L436.31,280.04 L435.83,280.68 L435.25,281.44 L434.6,282.27 L433.91,283.15 L433.2,284.02 L432.49,284.83 L431.82,285.56 L431.14,286.21 L430.44,286.84 L429.73,287.45 L429,288.04 L428.27,288.61 L427.56,289.17 L426.86,289.71 L426.2,290.24 L425.52,290.76 L424.79,291.26 L424.05,291.75 L423.34,292.23 L422.69,292.69 L422.14,293.13 L421.74,293.57 L421.52,293.98 L421.5,294.38 L421.63,294.75 L421.9,295.1 L422.28,295.44 L422.74,295.78 L423.26,296.11 L423.79,296.45 L424.33,296.79 L424.9,297.14 L425.56,297.49 L426.27,297.84 L427.02,298.19 L427.79,298.54 L428.54,298.9 L429.27,299.25 L429.95,299.6 L430.59,299.94 L431.24,300.28 L431.88,300.61 L432.51,300.94 L433.1,301.28 L433.66,301.64 L434.17,302.01 L434.62,302.41 L435.02,302.85 L435.37,303.36 L435.68,303.9 L435.95,304.45 L436.18,304.98 L436.37,305.45 L436.54,305.85 L436.68,306.15 Z" fill="#58B1CB" stroke="#555555" stroke-width="1.9" stroke-linejoin="round"/>
<line x1="425.46" y1="290.8" x2="436.68" y2="290.8" stroke="#555555" stroke-width="1.6" stroke-dasharray="4.2,4.5"/>
<line x1="421.54" y1="294.5" x2="436.68" y2="294.5" stroke="#555555" stroke-width="1.6" stroke-dasharray="8.2,5"/>
<line x1="425.98" y1="297.7" x2="436.68" y2="297.7" stroke="#555555" stroke-width="1.6" stroke-dasharray="4.2,4.5"/>
<path d="M436.68,279.57 L436.88,280.04 L437.15,280.66 L437.47,281.4 L437.82,282.22 L438.19,283.08 L438.57,283.95 L438.95,284.79 L439.3,285.56 L439.65,286.27 L440.01,286.95 L440.38,287.61 L440.75,288.27 L441.12,288.95 L441.47,289.65 L441.8,290.39 L442.11,291.18 L442.41,292.02 L442.71,292.92 L443,293.85 L443.28,294.8 L443.53,295.77 L443.73,296.75 L443.89,297.71 L443.98,298.66 L444.01,299.61 L443.99,300.58 L443.92,301.55 L443.81,302.52 L443.66,303.48 L443.48,304.41 L443.27,305.3 L443.05,306.15 L442.78,306.94 L442.45,307.68 L442.09,308.39 L441.7,309.07 L441.31,309.74 L440.92,310.4 L440.56,311.07 L440.24,311.76 L439.95,312.43 L439.68,313.04 L439.42,313.62 L439.18,314.22 L438.95,314.86 L438.73,315.58 L438.54,316.41 L438.37,317.38 L438.22,318.54 L438.09,319.88 L437.99,321.34 L437.9,322.88 L437.82,324.42 L437.75,325.93 L437.69,327.34 L437.62,328.61 L437.56,329.75 L437.5,330.85 L437.46,331.89 L437.42,332.88 L437.38,333.79 L437.34,334.64 L437.3,335.41 L437.24,336.09 L437.18,336.69 L437.1,337.19 L437.02,337.61 L436.94,337.97 L436.86,338.26 L436.79,338.51 L436.73,338.72 L436.68,338.9 Z" fill="#E89D86" stroke="#555555" stroke-width="1.9" stroke-linejoin="round"/>
<line x1="436.68" y1="299" x2="443.99" y2="299" stroke="#555555" stroke-width="1.6" stroke-dasharray="4.2,4.5"/>
<line x1="436.68" y1="300.5" x2="443.99" y2="300.5" stroke="#555555" stroke-width="1.6" stroke-dasharray="8.2,5"/>
<line x1="436.68" y1="304.3" x2="443.5" y2="304.3" stroke="#555555" stroke-width="1.6" stroke-dasharray="4.2,4.5"/>
<rect x="413" y="339.6" width="38.4" height="32.8" rx="1.2" fill="#E9E9E9" fill-opacity="0.92" stroke="#D6D6D6" stroke-width="0.6"/>
<text transform="translate(420.7,349.6) scale(1,1.1)" font-size="8.4" fill="#000" stroke="#000" stroke-width="0.1" text-anchor="start" font-weight="normal" >Gender</text>
<rect x="415" y="352.5" width="5.5" height="5.5" fill="#58B1CB" stroke="#555555" stroke-width="0.7"/>
<text transform="translate(421.9,357.6) scale(1,1.1)" font-size="8.2" fill="#000" stroke="#000" stroke-width="0.1" text-anchor="start" font-weight="normal" >Male</text>
<rect x="415" y="363.1" width="5.5" height="5.5" fill="#E89D86" stroke="#555555" stroke-width="0.7"/>
<text transform="translate(421.9,368.2) scale(1,1.1)" font-size="8.2" fill="#000" stroke="#000" stroke-width="0.1" text-anchor="start" font-weight="normal" >Female</text>
<rect x="497.9" y="256.1" width="186.6" height="119.5" fill="#E5E5E5" />
<line x1="497.9" y1="371.7" x2="684.5" y2="371.7" stroke="#fff" stroke-width="1.2" />
<line x1="497.9" y1="348.92" x2="684.5" y2="348.92" stroke="#fff" stroke-width="1.2" />
<line x1="497.9" y1="326.14" x2="684.5" y2="326.14" stroke="#fff" stroke-width="1.2" />
<line x1="497.9" y1="303.36" x2="684.5" y2="303.36" stroke="#fff" stroke-width="1.2" />
<line x1="497.9" y1="280.58" x2="684.5" y2="280.58" stroke="#fff" stroke-width="1.2" />
<line x1="497.9" y1="257.8" x2="684.5" y2="257.8" stroke="#fff" stroke-width="1.2" />
<text transform="translate(466.6,252.9) scale(1,1.1)" font-size="8.5" fill="#000" stroke="#000" stroke-width="0" text-anchor="start" font-weight="bold" >e</text>
<text transform="translate(491.5,262) scale(1,1.1)" font-size="9" fill="#4D4D4D" stroke="#4D4D4D" stroke-width="0.1" text-anchor="end" font-weight="normal" >100</text>
<text transform="translate(493.2,284.78) scale(1,1.1)" font-size="9" fill="#4D4D4D" stroke="#4D4D4D" stroke-width="0.1" text-anchor="end" font-weight="normal" >80</text>
<text transform="translate(493.2,307.76) scale(1,1.1)" font-size="9" fill="#4D4D4D" stroke="#4D4D4D" stroke-width="0.1" text-anchor="end" font-weight="normal" >60</text>
<text transform="translate(493.2,329.34) scale(1,1.1)" font-size="9" fill="#4D4D4D" stroke="#4D4D4D" stroke-width="0.1" text-anchor="end" font-weight="normal" >40</text>
<text transform="translate(493.9,351.62) scale(1,1.1)" font-size="9" fill="#4D4D4D" stroke="#4D4D4D" stroke-width="0.1" text-anchor="end" font-weight="normal" >20</text>
<text transform="translate(496.3,373.9) scale(1,1.1)" font-size="9" fill="#4D4D4D" stroke="#4D4D4D" stroke-width="0.1" text-anchor="end" font-weight="normal" >0</text>
<text transform="translate(510.5,388) scale(1,1.1)" font-size="9" fill="#000" stroke="#000" stroke-width="0.1" text-anchor="middle" font-weight="normal" >Asymptomatic</text>
<text transform="translate(555.7,388) scale(1,1.1)" font-size="9" fill="#000" stroke="#000" stroke-width="0.1" text-anchor="middle" font-weight="normal" >Mild</text>
<text transform="translate(591.8,388) scale(1,1.1)" font-size="9" fill="#000" stroke="#000" stroke-width="0.1" text-anchor="middle" font-weight="normal" >Moderate</text>
<text transform="translate(633.8,388) scale(1,1.1)" font-size="9" fill="#000" stroke="#000" stroke-width="0.1" text-anchor="middle" font-weight="normal" >Severe</text>
<text transform="translate(666.5,388) scale(1,1.1)" font-size="9" fill="#000" stroke="#000" stroke-width="0.1" text-anchor="middle" font-weight="normal" >Critical</text>
<text transform="translate(474.8,311.1) rotate(-90) scale(1,1.1)" font-size="9" fill="#000" stroke="#000" stroke-width="0.1" text-anchor="middle">Age</text>
<path d="M516.9,278.07 L516.73,279.08 L516.51,280.43 L516.24,282.03 L515.95,283.81 L515.63,285.69 L515.31,287.59 L514.97,289.45 L514.65,291.18 L514.33,292.81 L514.01,294.45 L513.68,296.09 L513.34,297.73 L512.99,299.36 L512.63,301 L512.24,302.64 L511.84,304.28 L511.42,305.93 L510.97,307.6 L510.51,309.27 L510.03,310.94 L509.55,312.6 L509.06,314.23 L508.58,315.83 L508.1,317.38 L507.61,318.91 L507.09,320.45 L506.55,321.97 L506.02,323.46 L505.51,324.89 L505.06,326.24 L504.66,327.49 L504.36,328.61 L504.13,329.55 L503.97,330.32 L503.86,330.96 L503.8,331.53 L503.78,332.09 L503.81,332.69 L503.88,333.38 L503.98,334.22 L504.13,335.21 L504.33,336.3 L504.57,337.46 L504.85,338.67 L505.16,339.91 L505.5,341.15 L505.86,342.39 L506.23,343.58 L506.63,344.76 L507.06,345.96 L507.52,347.17 L508.01,348.38 L508.5,349.57 L509,350.73 L509.49,351.86 L509.97,352.94 L510.45,353.98 L510.94,354.99 L511.44,355.97 L511.94,356.92 L512.42,357.84 L512.89,358.73 L513.32,359.59 L513.72,360.42 L514.08,361.22 L514.41,361.97 L514.73,362.68 L515.01,363.37 L515.28,364.04 L515.53,364.71 L515.75,365.37 L515.96,366.04 L516.15,366.75 L516.31,367.5 L516.45,368.26 L516.57,369.01 L516.67,369.72 L516.76,370.35 L516.83,370.88 L516.9,371.28 Z" fill="#58B1CB" stroke="#555555" stroke-width="1.9" stroke-linejoin="round"/>
<line x1="507.31" y1="319.8" x2="516.9" y2="319.8" stroke="#555555" stroke-width="1.6" stroke-dasharray="4.2,4.5"/>
<line x1="503.84" y1="332.9" x2="516.9" y2="332.9" stroke="#555555" stroke-width="1.6" stroke-dasharray="8.2,5"/>
<line x1="504.6" y1="337.6" x2="516.9" y2="337.6" stroke="#555555" stroke-width="1.6" stroke-dasharray="4.2,4.5"/>
<path d="M516.9,278.07 L517.14,278.32 L517.45,278.62 L517.82,278.96 L518.23,279.36 L518.69,279.84 L519.19,280.4 L519.72,281.06 L520.27,281.82 L520.87,282.73 L521.53,283.81 L522.25,285 L522.99,286.26 L523.75,287.56 L524.49,288.84 L525.21,290.06 L525.88,291.18 L526.54,292.21 L527.2,293.22 L527.87,294.2 L528.51,295.15 L529.12,296.07 L529.68,296.97 L530.16,297.83 L530.56,298.66 L530.88,299.44 L531.15,300.15 L531.35,300.82 L531.5,301.47 L531.58,302.12 L531.61,302.79 L531.58,303.5 L531.5,304.28 L531.33,305.11 L531.08,305.97 L530.76,306.86 L530.39,307.79 L529.97,308.74 L529.54,309.72 L529.11,310.72 L528.69,311.76 L528.27,312.84 L527.82,313.97 L527.35,315.14 L526.88,316.33 L526.39,317.53 L525.9,318.74 L525.42,319.94 L524.95,321.12 L524.47,322.29 L523.99,323.46 L523.5,324.63 L523.02,325.8 L522.54,326.97 L522.07,328.14 L521.63,329.31 L521.2,330.48 L520.8,331.67 L520.4,332.91 L520.02,334.15 L519.66,335.39 L519.31,336.6 L518.98,337.76 L518.68,338.85 L518.4,339.84 L518.14,340.76 L517.89,341.64 L517.67,342.46 L517.47,343.23 L517.29,343.92 L517.14,344.53 L517,345.04 L516.9,345.45 Z" fill="#E89D86" stroke="#555555" stroke-width="1.9" stroke-linejoin="round"/>
<line x1="516.9" y1="299" x2="530.7" y2="299" stroke="#555555" stroke-width="1.6" stroke-dasharray="4.2,4.5"/>
<line x1="516.9" y1="304.8" x2="531.39" y2="304.8" stroke="#555555" stroke-width="1.6" stroke-dasharray="8.2,5"/>
<line x1="516.9" y1="314" x2="527.81" y2="314" stroke="#555555" stroke-width="1.6" stroke-dasharray="4.2,4.5"/>
<path d="M553.58,314.57 L553.26,314.93 L552.84,315.41 L552.34,315.98 L551.78,316.62 L551.18,317.29 L550.55,317.97 L549.91,318.63 L549.28,319.25 L548.62,319.83 L547.92,320.42 L547.18,321 L546.43,321.59 L545.69,322.17 L544.96,322.76 L544.28,323.34 L543.66,323.93 L543.08,324.51 L542.51,325.1 L541.96,325.68 L541.44,326.27 L540.97,326.85 L540.55,327.44 L540.19,328.02 L539.92,328.61 L539.72,329.19 L539.59,329.78 L539.52,330.36 L539.51,330.95 L539.55,331.53 L539.63,332.12 L539.76,332.7 L539.92,333.29 L540.15,333.87 L540.47,334.46 L540.85,335.04 L541.26,335.63 L541.69,336.21 L542.09,336.8 L542.45,337.38 L542.73,337.97 L542.96,338.54 L543.2,339.11 L543.42,339.68 L543.6,340.25 L543.74,340.82 L543.8,341.41 L543.78,342.01 L543.66,342.64 L543.38,343.31 L542.92,344 L542.35,344.72 L541.73,345.45 L541.12,346.18 L540.57,346.9 L540.15,347.6 L539.92,348.26 L539.86,348.88 L539.9,349.47 L540.04,350.04 L540.27,350.6 L540.57,351.16 L540.93,351.72 L541.34,352.32 L541.79,352.94 L542.31,353.6 L542.92,354.29 L543.6,354.99 L544.33,355.71 L545.09,356.43 L545.87,357.15 L546.65,357.86 L547.41,358.55 L548.19,359.26 L549.05,360.01 L549.95,360.78 L550.84,361.52 L551.69,362.23 L552.46,362.86 L553.1,363.39 L553.58,363.79 Z" fill="#58B1CB" stroke="#555555" stroke-width="1.9" stroke-linejoin="round"/>
<line x1="539.51" y1="331" x2="553.58" y2="331" stroke="#555555" stroke-width="1.6" stroke-dasharray="4.2,4.5"/>
<line x1="543.73" y1="340.8" x2="553.58" y2="340.8" stroke="#555555" stroke-width="1.6" stroke-dasharray="8.2,5"/>
<line x1="539.91" y1="348.3" x2="553.58" y2="348.3" stroke="#555555" stroke-width="1.6" stroke-dasharray="4.2,4.5"/>
<line x1="553.6" y1="331.4" x2="569.9" y2="331.4" stroke="#555555" stroke-width="1.6" />
<path d="M591.15,260.86 L591.11,262.24 L591.06,264.13 L591,266.4 L590.93,268.88 L590.85,271.44 L590.77,273.92 L590.68,276.18 L590.59,278.07 L590.51,279.62 L590.47,280.97 L590.43,282.16 L590.38,283.24 L590.29,284.27 L590.16,285.28 L589.95,286.32 L589.65,287.43 L589.25,288.6 L588.75,289.77 L588.17,290.94 L587.55,292.11 L586.89,293.28 L586.23,294.45 L585.58,295.62 L584.97,296.79 L584.37,297.97 L583.74,299.17 L583.09,300.38 L582.46,301.59 L581.84,302.78 L581.27,303.94 L580.74,305.07 L580.29,306.15 L579.91,307.17 L579.58,308.15 L579.3,309.09 L579.07,310.01 L578.86,310.91 L578.69,311.81 L578.55,312.71 L578.42,313.63 L578.34,314.57 L578.32,315.51 L578.34,316.44 L578.39,317.38 L578.44,318.31 L578.47,319.25 L578.47,320.19 L578.42,321.12 L578.3,322.06 L578.1,322.99 L577.87,323.93 L577.63,324.86 L577.4,325.8 L577.22,326.74 L577.11,327.67 L577.11,328.61 L577.21,329.54 L577.37,330.48 L577.59,331.41 L577.86,332.35 L578.18,333.29 L578.54,334.22 L578.94,335.16 L579.36,336.09 L579.83,337.03 L580.38,337.97 L580.98,338.9 L581.6,339.84 L582.24,340.77 L582.88,341.71 L583.48,342.64 L584.04,343.58 L584.56,344.53 L585.07,345.5 L585.57,346.47 L586.05,347.44 L586.51,348.4 L586.96,349.33 L587.38,350.22 L587.78,351.07 L588.16,351.86 L588.52,352.61 L588.85,353.33 L589.17,354.01 L589.47,354.69 L589.74,355.35 L589.99,356.01 L590.21,356.68 L590.41,357.39 L590.57,358.14 L590.72,358.9 L590.83,359.65 L590.93,360.36 L591.02,360.99 L591.09,361.52 L591.15,361.92 Z" fill="#58B1CB" stroke="#555555" stroke-width="1.9" stroke-linejoin="round"/>
<line x1="578.89" y1="310.8" x2="591.15" y2="310.8" stroke="#555555" stroke-width="1.6" stroke-dasharray="4.2,4.5"/>
<line x1="578.29" y1="322.1" x2="591.15" y2="322.1" stroke="#555555" stroke-width="1.6" stroke-dasharray="8.2,5"/>
<line x1="577.85" y1="332.3" x2="591.15" y2="332.3" stroke="#555555" stroke-width="1.6" stroke-dasharray="4.2,4.5"/>
<path d="M591.15,260.86 L591.18,262.24 L591.22,264.13 L591.27,266.4 L591.32,268.88 L591.39,271.44 L591.48,273.92 L591.58,276.18 L591.71,278.07 L591.85,279.66 L591.98,281.1 L592.13,282.41 L592.3,283.6 L592.49,284.68 L592.74,285.67 L593.03,286.58 L593.4,287.43 L593.84,288.16 L594.35,288.74 L594.93,289.21 L595.55,289.6 L596.19,289.95 L596.83,290.31 L597.47,290.7 L598.07,291.18 L598.67,291.71 L599.29,292.26 L599.91,292.82 L600.53,293.4 L601.14,293.99 L601.71,294.6 L602.26,295.22 L602.75,295.85 L603.21,296.49 L603.65,297.13 L604.07,297.77 L604.45,298.43 L604.8,299.12 L605.1,299.85 L605.36,300.63 L605.56,301.47 L605.71,302.38 L605.82,303.36 L605.89,304.38 L605.91,305.45 L605.89,306.54 L605.82,307.65 L605.71,308.77 L605.56,309.89 L605.34,311.04 L605.03,312.25 L604.67,313.5 L604.27,314.75 L603.86,315.97 L603.45,317.15 L603.08,318.25 L602.75,319.25 L602.48,320.12 L602.24,320.87 L602.02,321.55 L601.82,322.17 L601.61,322.79 L601.39,323.42 L601.15,324.1 L600.88,324.86 L600.58,325.71 L600.25,326.6 L599.9,327.53 L599.54,328.49 L599.17,329.46 L598.8,330.44 L598.43,331.4 L598.07,332.35 L597.72,333.26 L597.37,334.13 L597.02,334.99 L596.67,335.86 L596.32,336.76 L595.97,337.7 L595.62,338.72 L595.27,339.84 L594.91,341.06 L594.53,342.39 L594.15,343.79 L593.77,345.24 L593.4,346.72 L593.06,348.2 L592.74,349.66 L592.46,351.07 L592.21,352.52 L592,354.06 L591.8,355.64 L591.63,357.2 L591.48,358.66 L591.35,359.98 L591.24,361.09 L591.15,361.92 Z" fill="#E89D86" stroke="#555555" stroke-width="1.9" stroke-linejoin="round"/>
<line x1="591.15" y1="299.6" x2="605" y2="299.6" stroke="#555555" stroke-width="1.6" stroke-dasharray="4.2,4.5"/>
<line x1="591.15" y1="309.5" x2="605.61" y2="309.5" stroke="#555555" stroke-width="1.6" stroke-dasharray="8.2,5"/>
<line x1="591.15" y1="322.1" x2="601.84" y2="322.1" stroke="#555555" stroke-width="1.6" stroke-dasharray="4.2,4.5"/>
<path d="M628.39,269.09 L628.38,270.26 L628.36,271.86 L628.35,273.77 L628.32,275.86 L628.29,278.03 L628.23,280.13 L628.14,282.06 L628.02,283.69 L627.88,285.06 L627.72,286.29 L627.55,287.42 L627.35,288.46 L627.12,289.43 L626.85,290.35 L626.53,291.23 L626.15,292.11 L625.69,292.94 L625.15,293.69 L624.55,294.38 L623.91,295.04 L623.26,295.68 L622.63,296.32 L622.02,297 L621.47,297.73 L620.94,298.49 L620.39,299.28 L619.85,300.07 L619.33,300.88 L618.85,301.71 L618.45,302.55 L618.13,303.41 L617.91,304.28 L617.82,305.17 L617.84,306.08 L617.94,307.02 L618.11,307.96 L618.33,308.91 L618.57,309.87 L618.81,310.82 L619.04,311.76 L619.26,312.69 L619.51,313.59 L619.78,314.49 L620.07,315.39 L620.36,316.3 L620.67,317.25 L620.98,318.22 L621.28,319.25 L621.59,320.33 L621.91,321.46 L622.24,322.62 L622.57,323.81 L622.9,325.02 L623.24,326.22 L623.57,327.42 L623.9,328.61 L624.23,329.78 L624.57,330.97 L624.92,332.16 L625.26,333.35 L625.59,334.52 L625.92,335.69 L626.23,336.84 L626.52,337.97 L626.81,339.12 L627.09,340.33 L627.36,341.56 L627.62,342.76 L627.86,343.89 L628.08,344.9 L628.25,345.74 L628.39,346.39 Z" fill="#58B1CB" stroke="#555555" stroke-width="1.9" stroke-linejoin="round"/>
<line x1="617.86" y1="304.8" x2="628.39" y2="304.8" stroke="#555555" stroke-width="1.6" stroke-dasharray="4.2,4.5"/>
<line x1="618.21" y1="308.4" x2="628.39" y2="308.4" stroke="#555555" stroke-width="1.6" stroke-dasharray="8.2,5"/>
<line x1="622.23" y1="322.6" x2="628.39" y2="322.6" stroke="#555555" stroke-width="1.6" stroke-dasharray="4.2,4.5"/>
<path d="M628.39,269.09 L628.45,270.27 L628.51,271.9 L628.58,273.85 L628.66,275.98 L628.76,278.16 L628.87,280.26 L629,282.15 L629.14,283.69 L629.29,284.92 L629.43,285.98 L629.57,286.9 L629.74,287.7 L629.94,288.41 L630.17,289.05 L630.47,289.65 L630.83,290.24 L631.26,290.77 L631.76,291.2 L632.32,291.57 L632.92,291.88 L633.55,292.16 L634.2,292.43 L634.86,292.72 L635.51,293.05 L636.19,293.39 L636.92,293.73 L637.68,294.06 L638.45,294.39 L639.21,294.73 L639.92,295.09 L640.57,295.46 L641.12,295.85 L641.61,296.28 L642.07,296.72 L642.48,297.19 L642.84,297.67 L643.14,298.15 L643.36,298.64 L643.5,299.12 L643.55,299.6 L643.5,300.06 L643.36,300.51 L643.14,300.96 L642.84,301.41 L642.48,301.87 L642.07,302.34 L641.61,302.83 L641.12,303.34 L640.56,303.87 L639.9,304.42 L639.17,304.99 L638.4,305.56 L637.61,306.16 L636.85,306.76 L636.14,307.38 L635.51,308.02 L634.94,308.64 L634.4,309.23 L633.88,309.81 L633.4,310.42 L632.95,311.08 L632.52,311.81 L632.13,312.66 L631.76,313.63 L631.43,314.77 L631.14,316.05 L630.87,317.43 L630.64,318.9 L630.43,320.41 L630.24,321.93 L630.06,323.42 L629.89,324.86 L629.74,326.27 L629.63,327.69 L629.53,329.12 L629.45,330.54 L629.37,331.95 L629.3,333.35 L629.23,334.74 L629.14,336.09 L629.04,337.5 L628.94,338.97 L628.83,340.48 L628.72,341.94 L628.62,343.32 L628.53,344.56 L628.45,345.6 L628.39,346.39 Z" fill="#E89D86" stroke="#555555" stroke-width="1.9" stroke-linejoin="round"/>
<line x1="628.39" y1="297.7" x2="642.86" y2="297.7" stroke="#555555" stroke-width="1.6" stroke-dasharray="4.2,4.5"/>
<line x1="628.39" y1="300.9" x2="643.17" y2="300.9" stroke="#555555" stroke-width="1.6" stroke-dasharray="8.2,5"/>
<line x1="628.39" y1="308.4" x2="635.16" y2="308.4" stroke="#555555" stroke-width="1.6" stroke-dasharray="4.2,4.5"/>
<path d="M666.18,272.83 L666.14,273.79 L666.13,275.12 L666.11,276.7 L666.08,278.44 L666.01,280.21 L665.89,281.9 L665.7,283.41 L665.43,284.62 L665.05,285.55 L664.6,286.29 L664.08,286.9 L663.51,287.41 L662.89,287.86 L662.25,288.3 L661.59,288.77 L660.93,289.3 L660.25,289.88 L659.5,290.45 L658.72,291.02 L657.92,291.58 L657.12,292.16 L656.35,292.75 L655.62,293.35 L654.95,293.98 L654.32,294.65 L653.7,295.34 L653.1,296.06 L652.54,296.79 L652.02,297.52 L651.55,298.24 L651.15,298.93 L650.83,299.6 L650.58,300.23 L650.39,300.85 L650.27,301.45 L650.2,302.03 L650.18,302.6 L650.22,303.17 L650.31,303.73 L650.45,304.28 L650.65,304.82 L650.9,305.35 L651.21,305.88 L651.58,306.39 L651.99,306.9 L652.44,307.4 L652.93,307.9 L653.45,308.39 L654.03,308.89 L654.69,309.38 L655.4,309.87 L656.15,310.35 L656.91,310.82 L657.66,311.28 L658.39,311.72 L659.06,312.14 L659.71,312.54 L660.35,312.93 L660.99,313.3 L661.6,313.66 L662.19,314 L662.75,314.33 L663.27,314.65 L663.74,314.94 L664.17,315.24 L664.57,315.52 L664.93,315.8 L665.25,316.06 L665.54,316.29 L665.79,316.5 L666,316.68 L666.18,316.82 Z" fill="#58B1CB" stroke="#555555" stroke-width="1.9" stroke-linejoin="round"/>
<line x1="651.9" y1="297.7" x2="666.18" y2="297.7" stroke="#555555" stroke-width="1.6" stroke-dasharray="4.2,4.5"/>
<line x1="650.26" y1="301.5" x2="666.18" y2="301.5" stroke="#555555" stroke-width="1.6" stroke-dasharray="8.2,5"/>
<line x1="651.17" y1="305.8" x2="666.18" y2="305.8" stroke="#555555" stroke-width="1.6" stroke-dasharray="4.2,4.5"/>
<path d="M666.18,272.83 L666.37,273.24 L666.62,273.77 L666.91,274.4 L667.24,275.1 L667.6,275.85 L667.99,276.61 L668.39,277.37 L668.8,278.07 L669.23,278.76 L669.69,279.44 L670.19,280.14 L670.7,280.83 L671.22,281.54 L671.74,282.25 L672.24,282.97 L672.73,283.69 L673.2,284.42 L673.69,285.18 L674.17,285.94 L674.64,286.71 L675.1,287.47 L675.53,288.22 L675.93,288.96 L676.28,289.68 L676.6,290.37 L676.9,291.03 L677.18,291.68 L677.43,292.32 L677.64,292.96 L677.8,293.6 L677.91,294.25 L677.97,294.92 L677.96,295.6 L677.91,296.3 L677.8,297 L677.65,297.7 L677.46,298.41 L677.23,299.12 L676.96,299.83 L676.66,300.53 L676.3,301.24 L675.89,301.94 L675.43,302.64 L674.94,303.34 L674.42,304.04 L673.91,304.74 L673.4,305.45 L672.91,306.15 L672.43,306.85 L671.94,307.55 L671.44,308.25 L670.94,308.96 L670.45,309.66 L669.99,310.36 L669.56,311.06 L669.17,311.76 L668.82,312.43 L668.51,313.04 L668.22,313.62 L667.95,314.22 L667.71,314.86 L667.49,315.58 L667.29,316.41 L667.11,317.38 L666.95,318.53 L666.82,319.83 L666.71,321.26 L666.62,322.76 L666.54,324.29 L666.48,325.8 L666.42,327.25 L666.36,328.61 L666.31,329.93 L666.27,331.3 L666.24,332.67 L666.22,333.99 L666.21,335.22 L666.2,336.33 L666.19,337.26 L666.18,337.97 Z" fill="#E89D86" stroke="#555555" stroke-width="1.9" stroke-linejoin="round"/>
<line x1="666.18" y1="293" x2="677.65" y2="293" stroke="#555555" stroke-width="1.6" stroke-dasharray="4.2,4.5"/>
<line x1="666.18" y1="295.9" x2="677.94" y2="295.9" stroke="#555555" stroke-width="1.6" stroke-dasharray="8.2,5"/>
<line x1="666.18" y1="298.7" x2="677.36" y2="298.7" stroke="#555555" stroke-width="1.6" stroke-dasharray="4.2,4.5"/>
<rect x="643.3" y="339.6" width="37.5" height="32.8" rx="1.2" fill="#E9E9E9" fill-opacity="0.92" stroke="#D6D6D6" stroke-width="0.6"/>
<text transform="translate(650.3,348.4) scale(1,1.1)" font-size="8.4" fill="#000" stroke="#000" stroke-width="0.1" text-anchor="start" font-weight="normal" >UMC</text>
<rect x="646" y="352.5" width="5.5" height="5.5" fill="#58B1CB" stroke="#555555" stroke-width="0.7"/>
<text transform="translate(655,357.6) scale(1,1.1)" font-size="8.2" fill="#000" stroke="#000" stroke-width="0.1" text-anchor="start" font-weight="normal" >No</text>
<rect x="646" y="363.1" width="5.5" height="5.5" fill="#E89D86" stroke="#555555" stroke-width="0.7"/>
<text transform="translate(655,368.2) scale(1,1.1)" font-size="8.2" fill="#000" stroke="#000" stroke-width="0.1" text-anchor="start" font-weight="normal" >Yes</text>
<text transform="translate(1.6,405) scale(1,1.1)" font-size="8.8" fill="#000" stroke="#000" stroke-width="0" text-anchor="start" font-weight="bold" >f</text>
<rect x="35.8" y="407.2" width="97.5" height="24.5" fill="#D9D9D9" />
<text transform="translate(75.1,424.6) scale(1,1.1)" font-size="9" fill="#1A1A1A" stroke="#1A1A1A" stroke-width="0.1" text-anchor="middle" font-weight="normal" >Tc−Count</text>
<svg x="35.8" y="431.7" width="97.5" height="128.1" overflow="hidden"><g transform="translate(-35.8,-431.7)">
<rect x="35.8" y="431.7" width="97.5" height="128.1" fill="#EBEBEB" />
<line x1="35.8" y1="536.25" x2="133.3" y2="536.25" stroke="#fff" stroke-width="0.8" />
<line x1="35.8" y1="493.35" x2="133.3" y2="493.35" stroke="#fff" stroke-width="0.8" />
<line x1="35.8" y1="450.45" x2="133.3" y2="450.45" stroke="#fff" stroke-width="0.8" />
<line x1="35.8" y1="557.7" x2="133.3" y2="557.7" stroke="#fff" stroke-width="1.3" />
<line x1="35.8" y1="514.8" x2="133.3" y2="514.8" stroke="#fff" stroke-width="1.3" />
<line x1="35.8" y1="471.9" x2="133.3" y2="471.9" stroke="#fff" stroke-width="1.3" />
<line x1="46.8" y1="431.7" x2="46.8" y2="559.8" stroke="#fff" stroke-width="1.3" />
<line x1="65.6" y1="431.7" x2="65.6" y2="559.8" stroke="#fff" stroke-width="1.3" />
<line x1="84.4" y1="431.7" x2="84.4" y2="559.8" stroke="#fff" stroke-width="1.3" />
<line x1="103.2" y1="431.7" x2="103.2" y2="559.8" stroke="#fff" stroke-width="1.3" />
<line x1="122" y1="431.7" x2="122" y2="559.8" stroke="#fff" stroke-width="1.3" />
<line x1="46.8" y1="486.2" x2="46.8" y2="488.7" stroke="#333333" stroke-width="1.05" />
<line x1="46.8" y1="498.9" x2="46.8" y2="506.6" stroke="#333333" stroke-width="1.05" />
<rect x="39.7" y="488.7" width="14.2" height="10.2" fill="#4E9F86" stroke="#333333" stroke-width="1.15"/>
<line x1="39.7" y1="493.4" x2="53.9" y2="493.4" stroke="#333333" stroke-width="2" />
<circle cx="46.8" cy="439.6" r="3.3" fill="#333333"/>
<circle cx="46.8" cy="513.8" r="3.3" fill="#333333"/>
<line x1="65.6" y1="478" x2="65.6" y2="489.2" stroke="#333333" stroke-width="1.05" />
<line x1="65.6" y1="500.3" x2="65.6" y2="501" stroke="#333333" stroke-width="1.05" />
<rect x="58.5" y="489.2" width="14.2" height="11.1" fill="#53B8D6" stroke="#333333" stroke-width="1.15"/>
<line x1="58.5" y1="492" x2="72.7" y2="492" stroke="#333333" stroke-width="2" />
<line x1="84.4" y1="470.9" x2="84.4" y2="501.1" stroke="#333333" stroke-width="1.05" />
<line x1="84.4" y1="526.5" x2="84.4" y2="546.5" stroke="#333333" stroke-width="1.05" />
<rect x="77.3" y="501.1" width="14.2" height="25.4" fill="#3A5386" stroke="#333333" stroke-width="1.15"/>
<line x1="77.3" y1="514.2" x2="91.5" y2="514.2" stroke="#333333" stroke-width="2" />
<circle cx="84.4" cy="437.6" r="3.3" fill="#333333"/>
<circle cx="84.4" cy="460.2" r="3.3" fill="#333333"/>
<line x1="103.2" y1="503.6" x2="103.2" y2="522" stroke="#333333" stroke-width="1.05" />
<line x1="103.2" y1="537.7" x2="103.2" y2="552.2" stroke="#333333" stroke-width="1.05" />
<rect x="96.1" y="522" width="14.2" height="15.7" fill="#F09A7E" stroke="#333333" stroke-width="1.15"/>
<line x1="96.1" y1="531.2" x2="110.3" y2="531.2" stroke="#333333" stroke-width="2" />
<circle cx="103.2" cy="486.8" r="3.3" fill="#333333"/>
<circle cx="103.2" cy="495" r="3.3" fill="#333333"/>
<line x1="122" y1="525.6" x2="122" y2="534.6" stroke="#333333" stroke-width="1.05" />
<line x1="122" y1="548.1" x2="122" y2="553.6" stroke="#333333" stroke-width="1.05" />
<rect x="114.9" y="534.6" width="14.2" height="13.5" fill="#E54B34" stroke="#333333" stroke-width="1.15"/>
<line x1="114.9" y1="536.7" x2="129.1" y2="536.7" stroke="#333333" stroke-width="2" />
<circle cx="122" cy="509.1" r="3.3" fill="#333333"/>
</g></svg>
<line x1="32.1" y1="557.7" x2="35.8" y2="557.7" stroke="#333333" stroke-width="1.1" />
<text transform="translate(28.5,562.2) scale(1,1.1)" font-size="8.9" fill="#4D4D4D" stroke="#4D4D4D" stroke-width="0.1" text-anchor="end" font-weight="normal" >0</text>
<line x1="32.1" y1="514.8" x2="35.8" y2="514.8" stroke="#333333" stroke-width="1.1" />
<text transform="translate(26.2,519.3) scale(1,1.1)" font-size="8.9" fill="#4D4D4D" stroke="#4D4D4D" stroke-width="0.1" text-anchor="end" font-weight="normal" >1000</text>
<line x1="32.1" y1="471.9" x2="35.8" y2="471.9" stroke="#333333" stroke-width="1.1" />
<text transform="translate(26.2,476.4) scale(1,1.1)" font-size="8.9" fill="#4D4D4D" stroke="#4D4D4D" stroke-width="0.1" text-anchor="end" font-weight="normal" >2000</text>
<rect x="173.7" y="407.2" width="97.5" height="24.5" fill="#D9D9D9" />
<text transform="translate(219.9,424.6) scale(1,1.1)" font-size="9" fill="#1A1A1A" stroke="#1A1A1A" stroke-width="0.1" text-anchor="middle" font-weight="normal" >IL6</text>
<svg x="173.7" y="431.7" width="97.5" height="128.1" overflow="hidden"><g transform="translate(-173.7,-431.7)">
<rect x="173.7" y="431.7" width="97.5" height="128.1" fill="#EBEBEB" />
<line x1="173.7" y1="529.85" x2="271.2" y2="529.85" stroke="#fff" stroke-width="0.8" />
<line x1="173.7" y1="482.35" x2="271.2" y2="482.35" stroke="#fff" stroke-width="0.8" />
<line x1="173.7" y1="434.85" x2="271.2" y2="434.85" stroke="#fff" stroke-width="0.8" />
<line x1="173.7" y1="553.6" x2="271.2" y2="553.6" stroke="#fff" stroke-width="1.3" />
<line x1="173.7" y1="506.1" x2="271.2" y2="506.1" stroke="#fff" stroke-width="1.3" />
<line x1="173.7" y1="458.6" x2="271.2" y2="458.6" stroke="#fff" stroke-width="1.3" />
<line x1="185.4" y1="431.7" x2="185.4" y2="559.8" stroke="#fff" stroke-width="1.3" />
<line x1="204.2" y1="431.7" x2="204.2" y2="559.8" stroke="#fff" stroke-width="1.3" />
<line x1="223" y1="431.7" x2="223" y2="559.8" stroke="#fff" stroke-width="1.3" />
<line x1="241.8" y1="431.7" x2="241.8" y2="559.8" stroke="#fff" stroke-width="1.3" />
<line x1="260.6" y1="431.7" x2="260.6" y2="559.8" stroke="#fff" stroke-width="1.3" />
<rect x="185.4" y="547.1" width="74.8" height="6.5" fill="rgb(0,228,240)" fill-opacity="0.19"/>
<rect x="178.3" y="550.4" width="14.2" height="2.1" fill="#4E9F86" stroke="#333333" stroke-width="1.15"/>
<line x1="178.3" y1="551.4" x2="192.5" y2="551.4" stroke="#333333" stroke-width="2" />
<rect x="197.1" y="550.4" width="14.2" height="2.1" fill="#53B8D6" stroke="#333333" stroke-width="1.15"/>
<line x1="197.1" y1="551.4" x2="211.3" y2="551.4" stroke="#333333" stroke-width="2" />
<circle cx="204.2" cy="552.2" r="3.3" fill="#333333"/>
<line x1="223" y1="522" x2="223" y2="536.7" stroke="#333333" stroke-width="1.05" />
<line x1="223" y1="548.1" x2="223" y2="552.2" stroke="#333333" stroke-width="1.05" />
<rect x="215.9" y="536.7" width="14.2" height="11.4" fill="#3A5386" stroke="#333333" stroke-width="1.15"/>
<line x1="215.9" y1="541.4" x2="230.1" y2="541.4" stroke="#333333" stroke-width="2" />
<circle cx="223" cy="467.8" r="3.3" fill="#333333"/>
<circle cx="223" cy="501.9" r="3.3" fill="#333333"/>
<circle cx="223" cy="511.3" r="3.3" fill="#333333"/>
<line x1="241.8" y1="494.4" x2="241.8" y2="516.5" stroke="#333333" stroke-width="1.05" />
<line x1="241.8" y1="539.3" x2="241.8" y2="546.9" stroke="#333333" stroke-width="1.05" />
<rect x="234.7" y="516.5" width="14.2" height="22.8" fill="#F09A7E" stroke="#333333" stroke-width="1.15"/>
<line x1="234.7" y1="535.3" x2="248.9" y2="535.3" stroke="#333333" stroke-width="2" />
<circle cx="241.8" cy="480.7" r="3.3" fill="#333333"/>
<line x1="260.6" y1="470.9" x2="260.6" y2="495.8" stroke="#333333" stroke-width="1.05" />
<line x1="260.6" y1="533.2" x2="260.6" y2="543.4" stroke="#333333" stroke-width="1.05" />
<rect x="253.5" y="495.8" width="14.2" height="37.4" fill="#E54B34" stroke="#333333" stroke-width="1.15"/>
<line x1="253.5" y1="516.9" x2="267.7" y2="516.9" stroke="#333333" stroke-width="2" />
<circle cx="260.6" cy="437.2" r="3.3" fill="#333333"/>
</g></svg>
<line x1="170" y1="553.6" x2="173.7" y2="553.6" stroke="#333333" stroke-width="1.1" />
<text transform="translate(169.4,556.8) scale(1,1.1)" font-size="8.9" fill="#4D4D4D" stroke="#4D4D4D" stroke-width="0.1" text-anchor="end" font-weight="normal" >0</text>
<line x1="170" y1="506.1" x2="173.7" y2="506.1" stroke="#333333" stroke-width="1.1" />
<text transform="translate(166.6,509.3) scale(1,1.1)" font-size="8.9" fill="#4D4D4D" stroke="#4D4D4D" stroke-width="0.1" text-anchor="end" font-weight="normal" >50</text>
<line x1="170" y1="458.6" x2="173.7" y2="458.6" stroke="#333333" stroke-width="1.1" />
<text transform="translate(164.4,461.8) scale(1,1.1)" font-size="8.9" fill="#4D4D4D" stroke="#4D4D4D" stroke-width="0.1" text-anchor="end" font-weight="normal" >100</text>
<rect x="312.1" y="407.2" width="97.5" height="24.5" fill="#D9D9D9" />
<text transform="translate(357.1,424.6) scale(1,1.1)" font-size="9" fill="#1A1A1A" stroke="#1A1A1A" stroke-width="0.1" text-anchor="middle" font-weight="normal" >Age</text>
<svg x="312.1" y="431.7" width="97.5" height="128.1" overflow="hidden"><g transform="translate(-312.1,-431.7)">
<rect x="312.1" y="431.7" width="97.5" height="128.1" fill="#EBEBEB" />
<line x1="312.1" y1="533.13" x2="409.6" y2="533.13" stroke="#fff" stroke-width="0.8" />
<line x1="312.1" y1="499" x2="409.6" y2="499" stroke="#fff" stroke-width="0.8" />
<line x1="312.1" y1="464.87" x2="409.6" y2="464.87" stroke="#fff" stroke-width="0.8" />
<line x1="312.1" y1="550.2" x2="409.6" y2="550.2" stroke="#fff" stroke-width="1.3" />
<line x1="312.1" y1="516.07" x2="409.6" y2="516.07" stroke="#fff" stroke-width="1.3" />
<line x1="312.1" y1="481.93" x2="409.6" y2="481.93" stroke="#fff" stroke-width="1.3" />
<line x1="312.1" y1="447.8" x2="409.6" y2="447.8" stroke="#fff" stroke-width="1.3" />
<line x1="323.5" y1="431.7" x2="323.5" y2="559.8" stroke="#fff" stroke-width="1.3" />
<line x1="342.3" y1="431.7" x2="342.3" y2="559.8" stroke="#fff" stroke-width="1.3" />
<line x1="361.1" y1="431.7" x2="361.1" y2="559.8" stroke="#fff" stroke-width="1.3" />
<line x1="379.9" y1="431.7" x2="379.9" y2="559.8" stroke="#fff" stroke-width="1.3" />
<line x1="398.7" y1="431.7" x2="398.7" y2="559.8" stroke="#fff" stroke-width="1.3" />
<line x1="323.5" y1="473.3" x2="323.5" y2="489.7" stroke="#333333" stroke-width="1.05" />
<line x1="323.5" y1="529.7" x2="323.5" y2="553.6" stroke="#333333" stroke-width="1.05" />
<rect x="316.4" y="489.7" width="14.2" height="40" fill="#4E9F86" stroke="#333333" stroke-width="1.15"/>
<line x1="316.4" y1="512.4" x2="330.6" y2="512.4" stroke="#333333" stroke-width="2" />
<line x1="342.3" y1="519.9" x2="342.3" y2="524.6" stroke="#333333" stroke-width="1.05" />
<line x1="342.3" y1="550.2" x2="342.3" y2="553" stroke="#333333" stroke-width="1.05" />
<rect x="335.2" y="524.6" width="14.2" height="25.6" fill="#53B8D6" stroke="#333333" stroke-width="1.15"/>
<line x1="335.2" y1="528.1" x2="349.4" y2="528.1" stroke="#333333" stroke-width="2" />
<line x1="361.1" y1="437.8" x2="361.1" y2="483.5" stroke="#333333" stroke-width="1.05" />
<line x1="361.1" y1="520.5" x2="361.1" y2="551.6" stroke="#333333" stroke-width="1.05" />
<rect x="354" y="483.5" width="14.2" height="37" fill="#3A5386" stroke="#333333" stroke-width="1.15"/>
<line x1="354" y1="500.5" x2="368.2" y2="500.5" stroke="#333333" stroke-width="2" />
<line x1="379.9" y1="451" x2="379.9" y2="474.6" stroke="#333333" stroke-width="1.05" />
<line x1="379.9" y1="495.8" x2="379.9" y2="526" stroke="#333333" stroke-width="1.05" />
<rect x="372.8" y="474.6" width="14.2" height="21.2" fill="#F09A7E" stroke="#333333" stroke-width="1.15"/>
<line x1="372.8" y1="480.7" x2="387" y2="480.7" stroke="#333333" stroke-width="2" />
<circle cx="379.9" cy="529.7" r="3.3" fill="#333333"/>
<line x1="398.7" y1="458.2" x2="398.7" y2="466.4" stroke="#333333" stroke-width="1.05" />
<line x1="398.7" y1="477" x2="398.7" y2="488.7" stroke="#333333" stroke-width="1.05" />
<rect x="391.6" y="466.4" width="14.2" height="10.6" fill="#E54B34" stroke="#333333" stroke-width="1.15"/>
<line x1="391.6" y1="472.5" x2="405.8" y2="472.5" stroke="#333333" stroke-width="2" />
<circle cx="398.7" cy="524.6" r="3.3" fill="#333333"/>
</g></svg>
<line x1="308.4" y1="550.2" x2="312.1" y2="550.2" stroke="#333333" stroke-width="1.1" />
<text transform="translate(304.7,551.4) scale(1,1.1)" font-size="8.9" fill="#4D4D4D" stroke="#4D4D4D" stroke-width="0.1" text-anchor="end" font-weight="normal" >20</text>
<line x1="308.4" y1="516.07" x2="312.1" y2="516.07" stroke="#333333" stroke-width="1.1" />
<text transform="translate(304.7,517.27) scale(1,1.1)" font-size="8.9" fill="#4D4D4D" stroke="#4D4D4D" stroke-width="0.1" text-anchor="end" font-weight="normal" >40</text>
<line x1="308.4" y1="481.93" x2="312.1" y2="481.93" stroke="#333333" stroke-width="1.1" />
<text transform="translate(304.7,483.13) scale(1,1.1)" font-size="8.9" fill="#4D4D4D" stroke="#4D4D4D" stroke-width="0.1" text-anchor="end" font-weight="normal" >60</text>
<line x1="308.4" y1="447.8" x2="312.1" y2="447.8" stroke="#333333" stroke-width="1.1" />
<text transform="translate(304.7,449) scale(1,1.1)" font-size="8.9" fill="#4D4D4D" stroke="#4D4D4D" stroke-width="0.1" text-anchor="end" font-weight="normal" >80</text>
<rect x="450.8" y="407.2" width="97.5" height="24.5" fill="#D9D9D9" />
<text transform="translate(494.9,424.6) scale(1,1.1)" font-size="9" fill="#1A1A1A" stroke="#1A1A1A" stroke-width="0.1" text-anchor="middle" font-weight="normal" >CRP</text>
<svg x="450.8" y="431.7" width="97.5" height="128.1" overflow="hidden"><g transform="translate(-450.8,-431.7)">
<rect x="450.8" y="431.7" width="97.5" height="128.1" fill="#EBEBEB" />
<line x1="450.8" y1="538" x2="548.3" y2="538" stroke="#fff" stroke-width="0.8" />
<line x1="450.8" y1="506.8" x2="548.3" y2="506.8" stroke="#fff" stroke-width="0.8" />
<line x1="450.8" y1="475.6" x2="548.3" y2="475.6" stroke="#fff" stroke-width="0.8" />
<line x1="450.8" y1="444.4" x2="548.3" y2="444.4" stroke="#fff" stroke-width="0.8" />
<line x1="450.8" y1="553.6" x2="548.3" y2="553.6" stroke="#fff" stroke-width="1.3" />
<line x1="450.8" y1="522.4" x2="548.3" y2="522.4" stroke="#fff" stroke-width="1.3" />
<line x1="450.8" y1="491.2" x2="548.3" y2="491.2" stroke="#fff" stroke-width="1.3" />
<line x1="450.8" y1="460" x2="548.3" y2="460" stroke="#fff" stroke-width="1.3" />
<line x1="461.7" y1="431.7" x2="461.7" y2="559.8" stroke="#fff" stroke-width="1.3" />
<line x1="480.5" y1="431.7" x2="480.5" y2="559.8" stroke="#fff" stroke-width="1.3" />
<line x1="499.3" y1="431.7" x2="499.3" y2="559.8" stroke="#fff" stroke-width="1.3" />
<line x1="518.1" y1="431.7" x2="518.1" y2="559.8" stroke="#fff" stroke-width="1.3" />
<line x1="536.9" y1="431.7" x2="536.9" y2="559.8" stroke="#fff" stroke-width="1.3" />
<rect x="462" y="548.9" width="75.2" height="10.9" fill="rgb(0,228,240)" fill-opacity="0.19"/>
<rect x="454.6" y="551.6" width="14.2" height="2.7" fill="#4E9F86" stroke="#333333" stroke-width="1.15"/>
<line x1="454.6" y1="552.9" x2="468.8" y2="552.9" stroke="#333333" stroke-width="2" />
<rect x="473.4" y="551.6" width="14.2" height="2.7" fill="#53B8D6" stroke="#333333" stroke-width="1.15"/>
<line x1="473.4" y1="552.9" x2="487.6" y2="552.9" stroke="#333333" stroke-width="2" />
<circle cx="480.5" cy="550.6" r="3.3" fill="#333333"/>
<line x1="499.3" y1="525" x2="499.3" y2="539.3" stroke="#333333" stroke-width="1.05" />
<line x1="499.3" y1="550.6" x2="499.3" y2="553.6" stroke="#333333" stroke-width="1.05" />
<rect x="492.2" y="539.3" width="14.2" height="11.3" fill="#3A5386" stroke="#333333" stroke-width="1.15"/>
<line x1="492.2" y1="548.1" x2="506.4" y2="548.1" stroke="#333333" stroke-width="2" />
<circle cx="499.3" cy="483.5" r="3.3" fill="#333333"/>
<circle cx="499.3" cy="501.9" r="3.3" fill="#333333"/>
<circle cx="499.3" cy="505.2" r="3.3" fill="#333333"/>
<circle cx="499.3" cy="508.1" r="3.3" fill="#333333"/>
<circle cx="499.3" cy="511.3" r="3.3" fill="#333333"/>
<circle cx="499.3" cy="519.3" r="3.3" fill="#333333"/>
<line x1="518.1" y1="494.4" x2="518.1" y2="520.5" stroke="#333333" stroke-width="1.05" />
<line x1="518.1" y1="547.1" x2="518.1" y2="552.6" stroke="#333333" stroke-width="1.05" />
<rect x="511" y="520.5" width="14.2" height="26.6" fill="#F09A7E" stroke="#333333" stroke-width="1.15"/>
<line x1="511" y1="537.3" x2="525.2" y2="537.3" stroke="#333333" stroke-width="2" />
<circle cx="518.1" cy="437.2" r="3.3" fill="#333333"/>
<circle cx="518.1" cy="442.7" r="3.3" fill="#333333"/>
<circle cx="518.1" cy="457.6" r="3.3" fill="#333333"/>
<circle cx="518.1" cy="476.6" r="3.3" fill="#333333"/>
<line x1="536.9" y1="497.4" x2="536.9" y2="518.5" stroke="#333333" stroke-width="1.05" />
<line x1="536.9" y1="538.9" x2="536.9" y2="547.5" stroke="#333333" stroke-width="1.05" />
<rect x="529.8" y="518.5" width="14.2" height="20.4" fill="#E54B34" stroke="#333333" stroke-width="1.15"/>
<line x1="529.8" y1="528.7" x2="544" y2="528.7" stroke="#333333" stroke-width="2" />
<circle cx="536.9" cy="461.1" r="3.3" fill="#333333"/>
<circle cx="536.9" cy="470.3" r="3.3" fill="#333333"/>
</g></svg>
<line x1="447.1" y1="553.6" x2="450.8" y2="553.6" stroke="#333333" stroke-width="1.1" />
<text transform="translate(445.7,557.1) scale(1,1.1)" font-size="8.9" fill="#4D4D4D" stroke="#4D4D4D" stroke-width="0.1" text-anchor="end" font-weight="normal" >0</text>
<line x1="447.1" y1="522.4" x2="450.8" y2="522.4" stroke="#333333" stroke-width="1.1" />
<text transform="translate(443.2,525.9) scale(1,1.1)" font-size="8.9" fill="#4D4D4D" stroke="#4D4D4D" stroke-width="0.1" text-anchor="end" font-weight="normal" >50</text>
<line x1="447.1" y1="491.2" x2="450.8" y2="491.2" stroke="#333333" stroke-width="1.1" />
<text transform="translate(440.6,494.7) scale(1,1.1)" font-size="8.9" fill="#4D4D4D" stroke="#4D4D4D" stroke-width="0.1" text-anchor="end" font-weight="normal" >100</text>
<line x1="447.1" y1="460" x2="450.8" y2="460" stroke="#333333" stroke-width="1.1" />
<text transform="translate(440.6,463.5) scale(1,1.1)" font-size="8.9" fill="#4D4D4D" stroke="#4D4D4D" stroke-width="0.1" text-anchor="end" font-weight="normal" >150</text>
<rect x="581.4" y="407.2" width="97.5" height="24.5" fill="#D9D9D9" />
<text transform="translate(622.5,424.6) scale(1,1.1)" font-size="9" fill="#1A1A1A" stroke="#1A1A1A" stroke-width="0.1" text-anchor="middle" font-weight="normal" >T−CELL</text>
<svg x="581.4" y="431.7" width="97.5" height="128.1" overflow="hidden"><g transform="translate(-581.4,-431.7)">
<rect x="581.4" y="431.7" width="97.5" height="128.1" fill="#EBEBEB" />
<line x1="581.4" y1="553.77" x2="678.9" y2="553.77" stroke="#fff" stroke-width="0.8" />
<line x1="581.4" y1="513.82" x2="678.9" y2="513.82" stroke="#fff" stroke-width="0.8" />
<line x1="581.4" y1="473.88" x2="678.9" y2="473.88" stroke="#fff" stroke-width="0.8" />
<line x1="581.4" y1="433.92" x2="678.9" y2="433.92" stroke="#fff" stroke-width="0.8" />
<line x1="581.4" y1="533.8" x2="678.9" y2="533.8" stroke="#fff" stroke-width="1.3" />
<line x1="581.4" y1="493.85" x2="678.9" y2="493.85" stroke="#fff" stroke-width="1.3" />
<line x1="581.4" y1="453.9" x2="678.9" y2="453.9" stroke="#fff" stroke-width="1.3" />
<line x1="593" y1="431.7" x2="593" y2="559.8" stroke="#fff" stroke-width="1.3" />
<line x1="611.8" y1="431.7" x2="611.8" y2="559.8" stroke="#fff" stroke-width="1.3" />
<line x1="630.6" y1="431.7" x2="630.6" y2="559.8" stroke="#fff" stroke-width="1.3" />
<line x1="649.4" y1="431.7" x2="649.4" y2="559.8" stroke="#fff" stroke-width="1.3" />
<line x1="668.2" y1="431.7" x2="668.2" y2="559.8" stroke="#fff" stroke-width="1.3" />
<rect x="593" y="455.5" width="74.6" height="28" fill="rgb(0,228,240)" fill-opacity="0.19"/>
<line x1="593" y1="449.4" x2="593" y2="461.3" stroke="#333333" stroke-width="1.05" />
<line x1="593" y1="490.3" x2="593" y2="501.9" stroke="#333333" stroke-width="1.05" />
<rect x="585.9" y="461.3" width="14.2" height="29" fill="#4E9F86" stroke="#333333" stroke-width="1.15"/>
<line x1="585.9" y1="472.9" x2="600.1" y2="472.9" stroke="#333333" stroke-width="2" />
<line x1="611.8" y1="454.1" x2="611.8" y2="460.7" stroke="#333333" stroke-width="1.05" />
<rect x="604.7" y="460.7" width="14.2" height="15.5" fill="#53B8D6" stroke="#333333" stroke-width="1.15"/>
<line x1="604.7" y1="473.5" x2="618.9" y2="473.5" stroke="#333333" stroke-width="2" />
<circle cx="611.8" cy="501.5" r="3.3" fill="#333333"/>
<line x1="630.6" y1="437.8" x2="630.6" y2="465.4" stroke="#333333" stroke-width="1.05" />
<line x1="630.6" y1="489.9" x2="630.6" y2="519.5" stroke="#333333" stroke-width="1.05" />
<rect x="623.5" y="465.4" width="14.2" height="24.5" fill="#3A5386" stroke="#333333" stroke-width="1.15"/>
<line x1="623.5" y1="473.9" x2="637.7" y2="473.9" stroke="#333333" stroke-width="2" />
<circle cx="630.6" cy="525.6" r="3.3" fill="#333333"/>
<circle cx="630.6" cy="529.1" r="3.3" fill="#333333"/>
<circle cx="630.6" cy="532.2" r="3.3" fill="#333333"/>
<circle cx="630.6" cy="536.3" r="3.3" fill="#333333"/>
<line x1="649.4" y1="447.4" x2="649.4" y2="475.4" stroke="#333333" stroke-width="1.05" />
<line x1="649.4" y1="510.3" x2="649.4" y2="533.8" stroke="#333333" stroke-width="1.05" />
<rect x="642.3" y="475.4" width="14.2" height="34.9" fill="#F09A7E" stroke="#333333" stroke-width="1.15"/>
<line x1="642.3" y1="493.8" x2="656.5" y2="493.8" stroke="#333333" stroke-width="2" />
<line x1="668.2" y1="489.3" x2="668.2" y2="497.4" stroke="#333333" stroke-width="1.05" />
<line x1="668.2" y1="518.5" x2="668.2" y2="536.3" stroke="#333333" stroke-width="1.05" />
<rect x="661.1" y="497.4" width="14.2" height="21.1" fill="#E54B34" stroke="#333333" stroke-width="1.15"/>
<line x1="661.1" y1="508.1" x2="675.3" y2="508.1" stroke="#333333" stroke-width="2" />
<circle cx="668.2" cy="464.7" r="3.3" fill="#333333"/>
<circle cx="668.2" cy="553" r="3.3" fill="#333333"/>
</g></svg>
<line x1="577.7" y1="533.8" x2="581.4" y2="533.8" stroke="#333333" stroke-width="1.1" />
<text transform="translate(575.7,537.5) scale(1,1.1)" font-size="8.9" fill="#4D4D4D" stroke="#4D4D4D" stroke-width="0.1" text-anchor="end" font-weight="normal" >40</text>
<line x1="577.7" y1="493.85" x2="581.4" y2="493.85" stroke="#333333" stroke-width="1.1" />
<text transform="translate(575.7,497.55) scale(1,1.1)" font-size="8.9" fill="#4D4D4D" stroke="#4D4D4D" stroke-width="0.1" text-anchor="end" font-weight="normal" >60</text>
<line x1="577.7" y1="453.9" x2="581.4" y2="453.9" stroke="#333333" stroke-width="1.1" />
<text transform="translate(575.7,457.6) scale(1,1.1)" font-size="8.9" fill="#4D4D4D" stroke="#4D4D4D" stroke-width="0.1" text-anchor="end" font-weight="normal" >80</text>
<rect x="35.8" y="570.7" width="97.5" height="24" fill="#D9D9D9" />
<text transform="translate(76.2,588) scale(1,1.1)" font-size="9" fill="#1A1A1A" stroke="#1A1A1A" stroke-width="0.1" text-anchor="middle" font-weight="normal" >LYMPH#</text>
<svg x="35.8" y="594.7" width="97.5" height="127.9" overflow="hidden"><g transform="translate(-35.8,-594.7)">
<rect x="35.8" y="594.7" width="97.5" height="127.9" fill="#EBEBEB" />
<line x1="35.8" y1="705.9" x2="133.3" y2="705.9" stroke="#fff" stroke-width="0.8" />
<line x1="35.8" y1="672.3" x2="133.3" y2="672.3" stroke="#fff" stroke-width="0.8" />
<line x1="35.8" y1="638.7" x2="133.3" y2="638.7" stroke="#fff" stroke-width="0.8" />
<line x1="35.8" y1="605.1" x2="133.3" y2="605.1" stroke="#fff" stroke-width="0.8" />
<line x1="35.8" y1="722.7" x2="133.3" y2="722.7" stroke="#fff" stroke-width="1.3" />
<line x1="35.8" y1="689.1" x2="133.3" y2="689.1" stroke="#fff" stroke-width="1.3" />
<line x1="35.8" y1="655.5" x2="133.3" y2="655.5" stroke="#fff" stroke-width="1.3" />
<line x1="35.8" y1="621.9" x2="133.3" y2="621.9" stroke="#fff" stroke-width="1.3" />
<line x1="46.8" y1="594.7" x2="46.8" y2="722.6" stroke="#fff" stroke-width="1.3" />
<line x1="65.6" y1="594.7" x2="65.6" y2="722.6" stroke="#fff" stroke-width="1.3" />
<line x1="84.4" y1="594.7" x2="84.4" y2="722.6" stroke="#fff" stroke-width="1.3" />
<line x1="103.2" y1="594.7" x2="103.2" y2="722.6" stroke="#fff" stroke-width="1.3" />
<line x1="122" y1="594.7" x2="122" y2="722.6" stroke="#fff" stroke-width="1.3" />
<rect x="47" y="615.6" width="75.2" height="70.4" fill="rgb(0,228,240)" fill-opacity="0.19"/>
<line x1="46.8" y1="631.9" x2="46.8" y2="646.5" stroke="#333333" stroke-width="1.05" />
<line x1="46.8" y1="670.4" x2="46.8" y2="686.6" stroke="#333333" stroke-width="1.05" />
<rect x="39.7" y="646.5" width="14.2" height="23.9" fill="#4E9F86" stroke="#333333" stroke-width="1.15"/>
<line x1="39.7" y1="655" x2="53.9" y2="655" stroke="#333333" stroke-width="2" />
<circle cx="46.8" cy="600.9" r="3.3" fill="#333333"/>
<line x1="65.6" y1="631.1" x2="65.6" y2="641.3" stroke="#333333" stroke-width="1.05" />
<line x1="65.6" y1="657.5" x2="65.6" y2="677.2" stroke="#333333" stroke-width="1.05" />
<rect x="58.5" y="641.3" width="14.2" height="16.2" fill="#53B8D6" stroke="#333333" stroke-width="1.15"/>
<line x1="58.5" y1="655.4" x2="72.7" y2="655.4" stroke="#333333" stroke-width="2" />
<circle cx="65.6" cy="617.8" r="3.3" fill="#333333"/>
<line x1="84.4" y1="634" x2="84.4" y2="667.1" stroke="#333333" stroke-width="1.05" />
<line x1="84.4" y1="689.4" x2="84.4" y2="708.5" stroke="#333333" stroke-width="1.05" />
<rect x="77.3" y="667.1" width="14.2" height="22.3" fill="#3A5386" stroke="#333333" stroke-width="1.15"/>
<line x1="77.3" y1="680.8" x2="91.5" y2="680.8" stroke="#333333" stroke-width="2" />
<circle cx="84.4" cy="600.9" r="3.3" fill="#333333"/>
<circle cx="84.4" cy="624.4" r="3.3" fill="#333333"/>
<circle cx="84.4" cy="634.2" r="3.3" fill="#333333"/>
<line x1="103.2" y1="669.5" x2="103.2" y2="681.6" stroke="#333333" stroke-width="1.05" />
<line x1="103.2" y1="694.3" x2="103.2" y2="709.5" stroke="#333333" stroke-width="1.05" />
<rect x="96.1" y="681.6" width="14.2" height="12.7" fill="#F09A7E" stroke="#333333" stroke-width="1.15"/>
<line x1="96.1" y1="687.3" x2="110.3" y2="687.3" stroke="#333333" stroke-width="2" />
<circle cx="103.2" cy="631.5" r="3.3" fill="#333333"/>
<circle cx="103.2" cy="644.5" r="3.3" fill="#333333"/>
<circle cx="103.2" cy="654.7" r="3.3" fill="#333333"/>
<circle cx="103.2" cy="661.5" r="3.3" fill="#333333"/>
<circle cx="103.2" cy="717" r="3.3" fill="#333333"/>
<line x1="122" y1="663.3" x2="122" y2="678.2" stroke="#333333" stroke-width="1.05" />
<line x1="122" y1="700.7" x2="122" y2="711.5" stroke="#333333" stroke-width="1.05" />
<rect x="114.9" y="678.2" width="14.2" height="22.5" fill="#E54B34" stroke="#333333" stroke-width="1.15"/>
<line x1="114.9" y1="690" x2="129.1" y2="690" stroke="#333333" stroke-width="2" />
</g></svg>
<line x1="32.1" y1="722.7" x2="35.8" y2="722.7" stroke="#333333" stroke-width="1.1" />
<text transform="translate(26.8,723.5) scale(1,1.1)" font-size="8.9" fill="#4D4D4D" stroke="#4D4D4D" stroke-width="0.1" text-anchor="end" font-weight="normal" >0</text>
<line x1="32.1" y1="689.1" x2="35.8" y2="689.1" stroke="#333333" stroke-width="1.1" />
<text transform="translate(26.8,694.3) scale(1,1.1)" font-size="8.9" fill="#4D4D4D" stroke="#4D4D4D" stroke-width="0.1" text-anchor="end" font-weight="normal" >1</text>
<line x1="32.1" y1="655.5" x2="35.8" y2="655.5" stroke="#333333" stroke-width="1.1" />
<text transform="translate(26.8,660.7) scale(1,1.1)" font-size="8.9" fill="#4D4D4D" stroke="#4D4D4D" stroke-width="0.1" text-anchor="end" font-weight="normal" >2</text>
<line x1="32.1" y1="621.9" x2="35.8" y2="621.9" stroke="#333333" stroke-width="1.1" />
<text transform="translate(26.8,627.1) scale(1,1.1)" font-size="8.9" fill="#4D4D4D" stroke="#4D4D4D" stroke-width="0.1" text-anchor="end" font-weight="normal" >3</text>
<rect x="173.7" y="570.7" width="97.5" height="24" fill="#D9D9D9" />
<text transform="translate(218.7,588) scale(1,1.1)" font-size="9" fill="#1A1A1A" stroke="#1A1A1A" stroke-width="0.1" text-anchor="middle" font-weight="normal" >A/G</text>
<svg x="173.7" y="594.7" width="97.5" height="127.9" overflow="hidden"><g transform="translate(-173.7,-594.7)">
<rect x="173.7" y="594.7" width="97.5" height="127.9" fill="#EBEBEB" />
<line x1="173.7" y1="695" x2="271.2" y2="695" stroke="#fff" stroke-width="0.8" />
<line x1="173.7" y1="653.8" x2="271.2" y2="653.8" stroke="#fff" stroke-width="0.8" />
<line x1="173.7" y1="612.6" x2="271.2" y2="612.6" stroke="#fff" stroke-width="0.8" />
<line x1="173.7" y1="715.6" x2="271.2" y2="715.6" stroke="#fff" stroke-width="1.3" />
<line x1="173.7" y1="674.4" x2="271.2" y2="674.4" stroke="#fff" stroke-width="1.3" />
<line x1="173.7" y1="633.2" x2="271.2" y2="633.2" stroke="#fff" stroke-width="1.3" />
<line x1="185.4" y1="594.7" x2="185.4" y2="722.6" stroke="#fff" stroke-width="1.3" />
<line x1="204.2" y1="594.7" x2="204.2" y2="722.6" stroke="#fff" stroke-width="1.3" />
<line x1="223" y1="594.7" x2="223" y2="722.6" stroke="#fff" stroke-width="1.3" />
<line x1="241.8" y1="594.7" x2="241.8" y2="722.6" stroke="#fff" stroke-width="1.3" />
<line x1="260.6" y1="594.7" x2="260.6" y2="722.6" stroke="#fff" stroke-width="1.3" />
<rect x="185.4" y="600.9" width="74.8" height="98" fill="rgb(0,228,240)" fill-opacity="0.19"/>
<line x1="185.4" y1="610.7" x2="185.4" y2="634.2" stroke="#333333" stroke-width="1.05" />
<line x1="185.4" y1="664.2" x2="185.4" y2="672.4" stroke="#333333" stroke-width="1.05" />
<rect x="178.3" y="634.2" width="14.2" height="30" fill="#4E9F86" stroke="#333333" stroke-width="1.15"/>
<line x1="178.3" y1="647.3" x2="192.5" y2="647.3" stroke="#333333" stroke-width="2" />
<line x1="204.2" y1="615.6" x2="204.2" y2="633.2" stroke="#333333" stroke-width="1.05" />
<line x1="204.2" y1="655.4" x2="204.2" y2="661.2" stroke="#333333" stroke-width="1.05" />
<rect x="197.1" y="633.2" width="14.2" height="22.2" fill="#53B8D6" stroke="#333333" stroke-width="1.15"/>
<line x1="197.1" y1="644.4" x2="211.3" y2="644.4" stroke="#333333" stroke-width="2" />
<line x1="223" y1="617.2" x2="223" y2="643.2" stroke="#333333" stroke-width="1.05" />
<line x1="223" y1="667.3" x2="223" y2="694.9" stroke="#333333" stroke-width="1.05" />
<rect x="215.9" y="643.2" width="14.2" height="24.1" fill="#3A5386" stroke="#333333" stroke-width="1.15"/>
<line x1="215.9" y1="656.1" x2="230.1" y2="656.1" stroke="#333333" stroke-width="2" />
<circle cx="223" cy="704.8" r="3.3" fill="#333333"/>
<line x1="241.8" y1="618.2" x2="241.8" y2="645.2" stroke="#333333" stroke-width="1.05" />
<line x1="241.8" y1="665.3" x2="241.8" y2="675.5" stroke="#333333" stroke-width="1.05" />
<rect x="234.7" y="645.2" width="14.2" height="20.1" fill="#F09A7E" stroke="#333333" stroke-width="1.15"/>
<line x1="234.7" y1="655.4" x2="248.9" y2="655.4" stroke="#333333" stroke-width="2" />
<circle cx="241.8" cy="700.7" r="3.3" fill="#333333"/>
<circle cx="241.8" cy="717" r="3.3" fill="#333333"/>
<line x1="260.6" y1="652.4" x2="260.6" y2="655.4" stroke="#333333" stroke-width="1.05" />
<line x1="260.6" y1="683" x2="260.6" y2="694.5" stroke="#333333" stroke-width="1.05" />
<rect x="253.5" y="655.4" width="14.2" height="27.6" fill="#E54B34" stroke="#333333" stroke-width="1.15"/>
<line x1="253.5" y1="664.6" x2="267.7" y2="664.6" stroke="#333333" stroke-width="2" />
</g></svg>
<line x1="170" y1="715.6" x2="173.7" y2="715.6" stroke="#333333" stroke-width="1.1" />
<text transform="translate(165.1,718.4) scale(1,1.1)" font-size="8.9" fill="#4D4D4D" stroke="#4D4D4D" stroke-width="0.1" text-anchor="end" font-weight="normal" >1.0</text>
<line x1="170" y1="674.4" x2="173.7" y2="674.4" stroke="#333333" stroke-width="1.1" />
<text transform="translate(165.1,677.2) scale(1,1.1)" font-size="8.9" fill="#4D4D4D" stroke="#4D4D4D" stroke-width="0.1" text-anchor="end" font-weight="normal" >1.5</text>
<line x1="170" y1="633.2" x2="173.7" y2="633.2" stroke="#333333" stroke-width="1.1" />
<text transform="translate(165.1,636) scale(1,1.1)" font-size="8.9" fill="#4D4D4D" stroke="#4D4D4D" stroke-width="0.1" text-anchor="end" font-weight="normal" >2.0</text>
<rect x="312.1" y="570.7" width="97.5" height="24" fill="#D9D9D9" />
<text transform="translate(356.9,588) scale(1,1.1)" font-size="9" fill="#1A1A1A" stroke="#1A1A1A" stroke-width="0.1" text-anchor="middle" font-weight="normal" >PLT</text>
<svg x="312.1" y="594.7" width="97.5" height="127.9" overflow="hidden"><g transform="translate(-312.1,-594.7)">
<rect x="312.1" y="594.7" width="97.5" height="127.9" fill="#EBEBEB" />
<line x1="312.1" y1="707.8" x2="409.6" y2="707.8" stroke="#fff" stroke-width="0.8" />
<line x1="312.1" y1="675" x2="409.6" y2="675" stroke="#fff" stroke-width="0.8" />
<line x1="312.1" y1="642.2" x2="409.6" y2="642.2" stroke="#fff" stroke-width="0.8" />
<line x1="312.1" y1="609.4" x2="409.6" y2="609.4" stroke="#fff" stroke-width="0.8" />
<line x1="312.1" y1="691.4" x2="409.6" y2="691.4" stroke="#fff" stroke-width="1.3" />
<line x1="312.1" y1="658.6" x2="409.6" y2="658.6" stroke="#fff" stroke-width="1.3" />
<line x1="312.1" y1="625.8" x2="409.6" y2="625.8" stroke="#fff" stroke-width="1.3" />
<line x1="323.5" y1="594.7" x2="323.5" y2="722.6" stroke="#fff" stroke-width="1.3" />
<line x1="342.3" y1="594.7" x2="342.3" y2="722.6" stroke="#fff" stroke-width="1.3" />
<line x1="361.1" y1="594.7" x2="361.1" y2="722.6" stroke="#fff" stroke-width="1.3" />
<line x1="379.9" y1="594.7" x2="379.9" y2="722.6" stroke="#fff" stroke-width="1.3" />
<line x1="398.7" y1="594.7" x2="398.7" y2="722.6" stroke="#fff" stroke-width="1.3" />
<rect x="323.5" y="609.5" width="75" height="74.1" fill="rgb(0,228,240)" fill-opacity="0.19"/>
<line x1="323.5" y1="622.3" x2="323.5" y2="627.4" stroke="#333333" stroke-width="1.05" />
<line x1="323.5" y1="644.2" x2="323.5" y2="651" stroke="#333333" stroke-width="1.05" />
<rect x="316.4" y="627.4" width="14.2" height="16.8" fill="#4E9F86" stroke="#333333" stroke-width="1.15"/>
<line x1="316.4" y1="636" x2="330.6" y2="636" stroke="#333333" stroke-width="2" />
<circle cx="323.5" cy="600.9" r="3.3" fill="#333333"/>
<circle cx="323.5" cy="673.4" r="3.3" fill="#333333"/>
<line x1="342.3" y1="656.1" x2="342.3" y2="669.7" stroke="#333333" stroke-width="1.05" />
<rect x="335.2" y="643.8" width="14.2" height="12.3" fill="#53B8D6" stroke="#333333" stroke-width="1.15"/>
<line x1="335.2" y1="649.3" x2="349.4" y2="649.3" stroke="#333333" stroke-width="2" />
<circle cx="342.3" cy="609" r="3.3" fill="#333333"/>
<circle cx="342.3" cy="622.3" r="3.3" fill="#333333"/>
<line x1="361.1" y1="618.9" x2="361.1" y2="652" stroke="#333333" stroke-width="1.05" />
<line x1="361.1" y1="675.5" x2="361.1" y2="698.9" stroke="#333333" stroke-width="1.05" />
<rect x="354" y="652" width="14.2" height="23.5" fill="#3A5386" stroke="#333333" stroke-width="1.15"/>
<line x1="354" y1="663.8" x2="368.2" y2="663.8" stroke="#333333" stroke-width="2" />
<circle cx="361.1" cy="600.9" r="3.3" fill="#333333"/>
<circle cx="361.1" cy="607" r="3.3" fill="#333333"/>
<circle cx="361.1" cy="609.5" r="3.3" fill="#333333"/>
<circle cx="361.1" cy="612" r="3.3" fill="#333333"/>
<circle cx="361.1" cy="614.6" r="3.3" fill="#333333"/>
<circle cx="361.1" cy="616.2" r="3.3" fill="#333333"/>
<circle cx="361.1" cy="717" r="3.3" fill="#333333"/>
<line x1="379.9" y1="654" x2="379.9" y2="667.3" stroke="#333333" stroke-width="1.05" />
<line x1="379.9" y1="682.6" x2="379.9" y2="694.9" stroke="#333333" stroke-width="1.05" />
<rect x="372.8" y="667.3" width="14.2" height="15.3" fill="#F09A7E" stroke="#333333" stroke-width="1.15"/>
<line x1="372.8" y1="674.9" x2="387" y2="674.9" stroke="#333333" stroke-width="2" />
<circle cx="379.9" cy="619.3" r="3.3" fill="#333333"/>
<circle cx="379.9" cy="641.3" r="3.3" fill="#333333"/>
<line x1="398.7" y1="649.3" x2="398.7" y2="664.2" stroke="#333333" stroke-width="1.05" />
<line x1="398.7" y1="685.7" x2="398.7" y2="692.4" stroke="#333333" stroke-width="1.05" />
<rect x="391.6" y="664.2" width="14.2" height="21.5" fill="#E54B34" stroke="#333333" stroke-width="1.15"/>
<line x1="391.6" y1="675.9" x2="405.8" y2="675.9" stroke="#333333" stroke-width="2" />
<circle cx="398.7" cy="618.2" r="3.3" fill="#333333"/>
</g></svg>
<line x1="308.4" y1="691.4" x2="312.1" y2="691.4" stroke="#333333" stroke-width="1.1" />
<text transform="translate(302.9,692.6) scale(1,1.1)" font-size="8.9" fill="#4D4D4D" stroke="#4D4D4D" stroke-width="0.1" text-anchor="end" font-weight="normal" >100</text>
<line x1="308.4" y1="658.6" x2="312.1" y2="658.6" stroke="#333333" stroke-width="1.1" />
<text transform="translate(302.9,659.8) scale(1,1.1)" font-size="8.9" fill="#4D4D4D" stroke="#4D4D4D" stroke-width="0.1" text-anchor="end" font-weight="normal" >200</text>
<line x1="308.4" y1="625.8" x2="312.1" y2="625.8" stroke="#333333" stroke-width="1.1" />
<text transform="translate(302.9,627) scale(1,1.1)" font-size="8.9" fill="#4D4D4D" stroke="#4D4D4D" stroke-width="0.1" text-anchor="end" font-weight="normal" >300</text>
<rect x="450.8" y="570.7" width="97.5" height="24" fill="#D9D9D9" />
<text transform="translate(493,588) scale(1,1.1)" font-size="9" fill="#1A1A1A" stroke="#1A1A1A" stroke-width="0.1" text-anchor="middle" font-weight="normal" >D−DIC</text>
<svg x="450.8" y="594.7" width="97.5" height="127.9" overflow="hidden"><g transform="translate(-450.8,-594.7)">
<rect x="450.8" y="594.7" width="97.5" height="127.9" fill="#EBEBEB" />
<line x1="450.8" y1="688.95" x2="548.3" y2="688.95" stroke="#fff" stroke-width="0.8" />
<line x1="450.8" y1="630.25" x2="548.3" y2="630.25" stroke="#fff" stroke-width="0.8" />
<line x1="450.8" y1="718.3" x2="548.3" y2="718.3" stroke="#fff" stroke-width="1.3" />
<line x1="450.8" y1="659.6" x2="548.3" y2="659.6" stroke="#fff" stroke-width="1.3" />
<line x1="450.8" y1="600.9" x2="548.3" y2="600.9" stroke="#fff" stroke-width="1.3" />
<line x1="461.7" y1="594.7" x2="461.7" y2="722.6" stroke="#fff" stroke-width="1.3" />
<line x1="480.5" y1="594.7" x2="480.5" y2="722.6" stroke="#fff" stroke-width="1.3" />
<line x1="499.3" y1="594.7" x2="499.3" y2="722.6" stroke="#fff" stroke-width="1.3" />
<line x1="518.1" y1="594.7" x2="518.1" y2="722.6" stroke="#fff" stroke-width="1.3" />
<line x1="536.9" y1="594.7" x2="536.9" y2="722.6" stroke="#fff" stroke-width="1.3" />
<rect x="454.6" y="715.2" width="14.2" height="2.5" fill="#4E9F86" stroke="#333333" stroke-width="1.15"/>
<line x1="454.6" y1="716.5" x2="468.8" y2="716.5" stroke="#333333" stroke-width="2" />
<circle cx="461.7" cy="715.2" r="3.3" fill="#333333"/>
<rect x="473.4" y="716" width="14.2" height="2" fill="#53B8D6" stroke="#333333" stroke-width="1.15"/>
<line x1="473.4" y1="717" x2="487.6" y2="717" stroke="#333333" stroke-width="2" />
<rect x="492.2" y="714.6" width="14.2" height="2.7" fill="#3A5386" stroke="#333333" stroke-width="1.15"/>
<line x1="492.2" y1="716" x2="506.4" y2="716" stroke="#333333" stroke-width="2" />
<circle cx="499.3" cy="706.5" r="3.3" fill="#333333"/>
<circle cx="499.3" cy="708.5" r="3.3" fill="#333333"/>
<circle cx="499.3" cy="710.5" r="3.3" fill="#333333"/>
<circle cx="499.3" cy="712.5" r="3.3" fill="#333333"/>
<rect x="511" y="713.2" width="14.2" height="3.4" fill="#F09A7E" stroke="#333333" stroke-width="1.15"/>
<line x1="511" y1="715" x2="525.2" y2="715" stroke="#333333" stroke-width="2" />
<circle cx="518.1" cy="672.3" r="3.3" fill="#333333"/>
<circle cx="518.1" cy="694.2" r="3.3" fill="#333333"/>
<circle cx="518.1" cy="697.2" r="3.3" fill="#333333"/>
<circle cx="518.1" cy="709.5" r="3.3" fill="#333333"/>
<line x1="536.9" y1="701.7" x2="536.9" y2="708.9" stroke="#333333" stroke-width="1.05" />
<rect x="529.8" y="708.9" width="14.2" height="6.7" fill="#E54B34" stroke="#333333" stroke-width="1.15"/>
<line x1="529.8" y1="712.6" x2="544" y2="712.6" stroke="#333333" stroke-width="2" />
<circle cx="536.9" cy="600.9" r="3.3" fill="#333333"/>
</g></svg>
<line x1="447.1" y1="718.3" x2="450.8" y2="718.3" stroke="#333333" stroke-width="1.1" />
<text transform="translate(445.7,721.5) scale(1,1.1)" font-size="8.9" fill="#4D4D4D" stroke="#4D4D4D" stroke-width="0.1" text-anchor="end" font-weight="normal" >0</text>
<line x1="447.1" y1="659.6" x2="450.8" y2="659.6" stroke="#333333" stroke-width="1.1" />
<text transform="translate(443.8,663.1) scale(1,1.1)" font-size="8.9" fill="#4D4D4D" stroke="#4D4D4D" stroke-width="0.1" text-anchor="end" font-weight="normal" >10</text>
<line x1="447.1" y1="600.9" x2="450.8" y2="600.9" stroke="#333333" stroke-width="1.1" />
<text transform="translate(443.8,604.4) scale(1,1.1)" font-size="8.9" fill="#4D4D4D" stroke="#4D4D4D" stroke-width="0.1" text-anchor="end" font-weight="normal" >20</text>
<rect x="581.4" y="570.7" width="97.5" height="24" fill="#D9D9D9" />
<text transform="translate(625.7,588) scale(1,1.1)" font-size="9" fill="#1A1A1A" stroke="#1A1A1A" stroke-width="0.1" text-anchor="middle" font-weight="normal" >CO2</text>
<svg x="581.4" y="594.7" width="97.5" height="127.9" overflow="hidden"><g transform="translate(-581.4,-594.7)">
<rect x="581.4" y="594.7" width="97.5" height="127.9" fill="#EBEBEB" />
<line x1="581.4" y1="687.88" x2="678.9" y2="687.88" stroke="#fff" stroke-width="0.8" />
<line x1="581.4" y1="650.02" x2="678.9" y2="650.02" stroke="#fff" stroke-width="0.8" />
<line x1="581.4" y1="612.18" x2="678.9" y2="612.18" stroke="#fff" stroke-width="0.8" />
<line x1="581.4" y1="706.8" x2="678.9" y2="706.8" stroke="#fff" stroke-width="1.3" />
<line x1="581.4" y1="668.95" x2="678.9" y2="668.95" stroke="#fff" stroke-width="1.3" />
<line x1="581.4" y1="631.1" x2="678.9" y2="631.1" stroke="#fff" stroke-width="1.3" />
<line x1="593" y1="594.7" x2="593" y2="722.6" stroke="#fff" stroke-width="1.3" />
<line x1="611.8" y1="594.7" x2="611.8" y2="722.6" stroke="#fff" stroke-width="1.3" />
<line x1="630.6" y1="594.7" x2="630.6" y2="722.6" stroke="#fff" stroke-width="1.3" />
<line x1="649.4" y1="594.7" x2="649.4" y2="722.6" stroke="#fff" stroke-width="1.3" />
<line x1="668.2" y1="594.7" x2="668.2" y2="722.6" stroke="#fff" stroke-width="1.3" />
<rect x="593" y="638.7" width="74.6" height="52.6" fill="rgb(0,228,240)" fill-opacity="0.19"/>
<line x1="593" y1="601.3" x2="593" y2="620.3" stroke="#333333" stroke-width="1.05" />
<line x1="593" y1="666.3" x2="593" y2="692.7" stroke="#333333" stroke-width="1.05" />
<rect x="585.9" y="620.3" width="14.2" height="46" fill="#4E9F86" stroke="#333333" stroke-width="1.15"/>
<line x1="585.9" y1="653" x2="600.1" y2="653" stroke="#333333" stroke-width="2" />
<line x1="611.8" y1="621.3" x2="611.8" y2="640.3" stroke="#333333" stroke-width="1.05" />
<line x1="611.8" y1="669.7" x2="611.8" y2="676.5" stroke="#333333" stroke-width="1.05" />
<rect x="604.7" y="640.3" width="14.2" height="29.4" fill="#53B8D6" stroke="#333333" stroke-width="1.15"/>
<line x1="604.7" y1="664.8" x2="618.9" y2="664.8" stroke="#333333" stroke-width="2" />
<line x1="630.6" y1="601.3" x2="630.6" y2="641.3" stroke="#333333" stroke-width="1.05" />
<line x1="630.6" y1="676.5" x2="630.6" y2="716.6" stroke="#333333" stroke-width="1.05" />
<rect x="623.5" y="641.3" width="14.2" height="35.2" fill="#3A5386" stroke="#333333" stroke-width="1.15"/>
<line x1="623.5" y1="660.1" x2="637.7" y2="660.1" stroke="#333333" stroke-width="2" />
<line x1="649.4" y1="611.5" x2="649.4" y2="646.5" stroke="#333333" stroke-width="1.05" />
<line x1="649.4" y1="672" x2="649.4" y2="693.5" stroke="#333333" stroke-width="1.05" />
<rect x="642.3" y="646.5" width="14.2" height="25.5" fill="#F09A7E" stroke="#333333" stroke-width="1.15"/>
<line x1="642.3" y1="658.1" x2="656.5" y2="658.1" stroke="#333333" stroke-width="2" />
<line x1="668.2" y1="649.9" x2="668.2" y2="661" stroke="#333333" stroke-width="1.05" />
<line x1="668.2" y1="684" x2="668.2" y2="700.9" stroke="#333333" stroke-width="1.05" />
<rect x="661.1" y="661" width="14.2" height="23" fill="#E54B34" stroke="#333333" stroke-width="1.15"/>
<line x1="661.1" y1="665.5" x2="675.3" y2="665.5" stroke="#333333" stroke-width="2" />
</g></svg>
<line x1="577.7" y1="706.8" x2="581.4" y2="706.8" stroke="#333333" stroke-width="1.1" />
<text transform="translate(575.3,710.8) scale(1,1.1)" font-size="8.9" fill="#4D4D4D" stroke="#4D4D4D" stroke-width="0.1" text-anchor="end" font-weight="normal" >20</text>
<line x1="577.7" y1="668.95" x2="581.4" y2="668.95" stroke="#333333" stroke-width="1.1" />
<text transform="translate(575.3,672.95) scale(1,1.1)" font-size="8.9" fill="#4D4D4D" stroke="#4D4D4D" stroke-width="0.1" text-anchor="end" font-weight="normal" >25</text>
<line x1="577.7" y1="631.1" x2="581.4" y2="631.1" stroke="#333333" stroke-width="1.1" />
<text transform="translate(575.3,635.1) scale(1,1.1)" font-size="8.9" fill="#4D4D4D" stroke="#4D4D4D" stroke-width="0.1" text-anchor="end" font-weight="normal" >30</text>
<text transform="translate(10.3,573.7) rotate(-90) scale(1,1.1)" font-size="8.8" fill="#000" stroke="#000" stroke-width="0.1" text-anchor="middle">Value</text>
<rect x="166.2" y="727.4" width="20" height="20.6" fill="#F2F2F2" />
<line x1="176.2" y1="729.2" x2="176.2" y2="746.6" stroke="#333333" stroke-width="1" />
<rect x="168.2" y="732.9" width="16" height="11.4" fill="#4E9F86" stroke="#333333" stroke-width="1.0"/>
<line x1="168.2" y1="738.6" x2="184.2" y2="738.6" stroke="#333333" stroke-width="1.9" />
<text transform="translate(190.3,741.8) scale(1,1.1)" font-size="9" fill="#000" stroke="#000" stroke-width="0.1" text-anchor="start" font-weight="normal" >Asymptomatic</text>
<rect x="270.9" y="727.4" width="20" height="20.6" fill="#F2F2F2" />
<line x1="280.9" y1="729.2" x2="280.9" y2="746.6" stroke="#333333" stroke-width="1" />
<rect x="272.9" y="732.9" width="16" height="11.4" fill="#53B8D6" stroke="#333333" stroke-width="1.0"/>
<line x1="272.9" y1="738.6" x2="288.9" y2="738.6" stroke="#333333" stroke-width="1.9" />
<text transform="translate(297.2,741.8) scale(1,1.1)" font-size="9" fill="#000" stroke="#000" stroke-width="0.1" text-anchor="start" font-weight="normal" >Mild</text>
<rect x="324.4" y="727.4" width="20" height="20.6" fill="#F2F2F2" />
<line x1="334.4" y1="729.2" x2="334.4" y2="746.6" stroke="#333333" stroke-width="1" />
<rect x="326.4" y="732.9" width="16" height="11.4" fill="#3A5386" stroke="#333333" stroke-width="1.0"/>
<line x1="326.4" y1="738.6" x2="342.4" y2="738.6" stroke="#333333" stroke-width="1.9" />
<text transform="translate(350.7,741.8) scale(1,1.1)" font-size="9" fill="#000" stroke="#000" stroke-width="0.1" text-anchor="start" font-weight="normal" >Moderate</text>
<rect x="406.1" y="727.4" width="20" height="20.6" fill="#F2F2F2" />
<line x1="416.1" y1="729.2" x2="416.1" y2="746.6" stroke="#333333" stroke-width="1" />
<rect x="408.1" y="732.9" width="16" height="11.4" fill="#F09A7E" stroke="#333333" stroke-width="1.0"/>
<line x1="408.1" y1="738.6" x2="424.1" y2="738.6" stroke="#333333" stroke-width="1.9" />
<text transform="translate(432.4,741.8) scale(1,1.1)" font-size="9" fill="#000" stroke="#000" stroke-width="0.1" text-anchor="start" font-weight="normal" >Severe</text>
<rect x="474.2" y="727.4" width="20" height="20.6" fill="#F2F2F2" />
<line x1="484.2" y1="729.2" x2="484.2" y2="746.6" stroke="#333333" stroke-width="1" />
<rect x="476.2" y="732.9" width="16" height="11.4" fill="#E54B34" stroke="#333333" stroke-width="1.0"/>
<line x1="476.2" y1="738.6" x2="492.2" y2="738.6" stroke="#333333" stroke-width="1.9" />
<text transform="translate(500.5,741.8) scale(1,1.1)" font-size="9" fill="#000" stroke="#000" stroke-width="0.1" text-anchor="start" font-weight="normal" >Critical</text>
</svg>
</body></html>
